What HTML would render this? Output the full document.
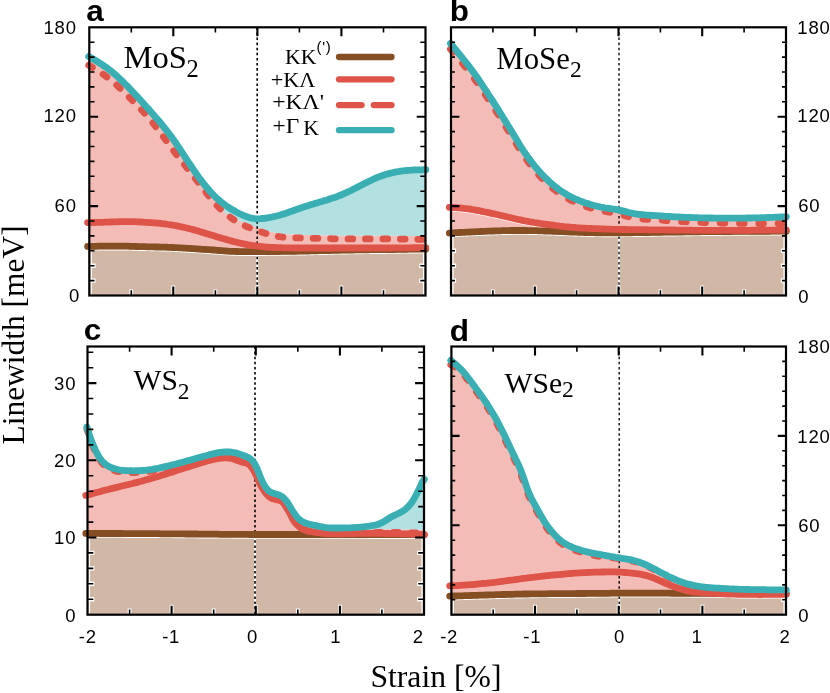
<!DOCTYPE html>
<html><head><meta charset="utf-8"><title>Linewidth vs strain</title>
<style>
html,body{margin:0;padding:0;background:#fff;}
body{width:830px;height:693px;overflow:hidden;font-family:"Liberation Sans",sans-serif;}
svg{display:block;will-change:transform;}
</style></head><body>
<svg width="830" height="693" viewBox="0 0 830 693">
<rect width="830" height="693" fill="#fff"/>
<clipPath id="cpa"><rect x="89.3" y="27.3" width="336.2" height="268.2"/></clipPath>
<g clip-path="url(#cpa)">
<path d="M222.3,202.9 L224.4,204.5 L226.5,206.0 L228.6,207.4 L230.7,208.8 L232.9,210.0 L235.0,211.2 L237.1,212.4 L239.2,213.5 L241.3,214.5 L243.5,215.4 L245.6,216.3 L247.7,217.0 L249.8,217.7 L251.9,218.2 L254.1,218.5 L256.2,218.8 L258.3,218.8 L260.4,218.7 L262.6,218.5 L264.7,218.3 L266.8,217.9 L268.9,217.6 L271.0,217.2 L273.2,216.7 L275.3,216.3 L277.4,215.8 L279.5,215.2 L281.6,214.5 L283.8,213.9 L285.9,213.2 L288.0,212.5 L290.1,211.7 L292.2,211.0 L294.4,210.2 L296.5,209.5 L298.6,208.7 L300.7,208.0 L302.8,207.3 L305.0,206.6 L307.1,205.9 L309.2,205.3 L311.3,204.6 L313.4,204.0 L315.6,203.3 L317.7,202.7 L319.8,202.1 L321.9,201.5 L324.0,200.8 L326.2,200.2 L328.3,199.5 L330.4,198.8 L332.5,198.1 L334.6,197.4 L336.8,196.7 L338.9,195.8 L341.0,195.0 L343.1,194.1 L345.2,193.2 L347.4,192.2 L349.5,191.2 L351.6,190.2 L353.7,189.1 L355.8,188.0 L358.0,186.9 L360.1,185.8 L362.2,184.7 L364.3,183.6 L366.4,182.6 L368.6,181.5 L370.7,180.5 L372.8,179.5 L374.9,178.5 L377.0,177.6 L379.2,176.7 L381.3,176.0 L383.4,175.2 L385.5,174.5 L387.6,173.9 L389.8,173.4 L391.9,172.8 L394.0,172.4 L396.1,171.9 L398.2,171.6 L400.4,171.2 L402.5,171.0 L404.6,170.7 L406.7,170.5 L408.8,170.3 L411.0,170.2 L413.1,170.0 L415.2,169.9 L417.3,169.9 L419.4,169.8 L421.6,169.8 L423.7,169.7 L425.8,169.7 L425.8,236.3 L423.7,236.3 L421.6,236.2 L419.4,236.2 L417.3,236.1 L415.2,236.1 L413.1,236.1 L411.0,236.0 L408.8,236.0 L406.7,236.0 L404.6,235.9 L402.5,235.9 L400.4,235.9 L398.2,235.8 L396.1,235.8 L394.0,235.8 L391.9,235.8 L389.8,235.7 L387.6,235.7 L385.5,235.7 L383.4,235.7 L381.3,235.7 L379.2,235.7 L377.0,235.7 L374.9,235.7 L372.8,235.7 L370.7,235.7 L368.6,235.7 L366.4,235.7 L364.3,235.7 L362.2,235.7 L360.1,235.7 L358.0,235.7 L355.8,235.7 L353.7,235.7 L351.6,235.7 L349.5,235.7 L347.4,235.7 L345.2,235.7 L343.1,235.7 L341.0,235.7 L338.9,235.7 L336.8,235.7 L334.6,235.6 L332.5,235.6 L330.4,235.5 L328.3,235.5 L326.2,235.5 L324.0,235.4 L321.9,235.4 L319.8,235.3 L317.7,235.2 L315.6,235.2 L313.4,235.1 L311.3,235.0 L309.2,235.0 L307.1,234.9 L305.0,234.9 L302.8,234.8 L300.7,234.7 L298.6,234.7 L296.5,234.6 L294.4,234.6 L292.2,234.5 L290.1,234.5 L288.0,234.4 L285.9,234.2 L283.8,234.0 L281.6,233.8 L279.5,233.5 L277.4,233.2 L275.3,232.8 L273.2,232.3 L271.0,231.8 L268.9,231.2 L266.8,230.6 L264.7,229.9 L262.6,229.2 L260.4,228.5 L258.3,227.8 L256.2,227.0 L254.1,226.2 L251.9,225.4 L249.8,224.6 L247.7,223.8 L245.6,223.0 L243.5,222.3 L241.3,221.6 L239.2,220.7 L237.1,219.8 L235.0,218.8 L232.9,217.7 L230.7,216.5 L228.6,215.2 L226.5,213.8 L224.4,212.3 L222.3,210.6Z" fill="#B3E0E1"/>
<path d="M88.7,56.6 L90.8,57.7 L92.9,58.9 L95.1,60.2 L97.2,61.5 L99.3,62.8 L101.4,64.2 L103.5,65.6 L105.7,67.1 L107.8,68.6 L109.9,70.2 L112.0,71.9 L114.1,73.7 L116.3,75.6 L118.4,77.5 L120.5,79.5 L122.6,81.5 L124.7,83.6 L126.9,85.7 L129.0,87.9 L131.1,90.1 L133.2,92.3 L135.3,94.6 L137.5,96.9 L139.6,99.2 L141.7,101.5 L143.8,103.9 L145.9,106.3 L148.1,108.6 L150.2,111.0 L152.3,113.4 L154.4,115.9 L156.5,118.3 L158.7,120.8 L160.8,123.3 L162.9,125.9 L165.0,128.5 L167.1,131.2 L169.3,133.9 L171.4,136.8 L173.5,139.7 L175.6,142.7 L177.7,145.9 L179.9,149.0 L182.0,152.3 L184.1,155.5 L186.2,158.8 L188.3,162.0 L190.5,165.2 L192.6,168.4 L194.7,171.5 L196.8,174.6 L198.9,177.5 L201.1,180.4 L203.2,183.1 L205.3,185.8 L207.4,188.3 L209.5,190.8 L211.7,193.1 L213.8,195.3 L215.9,197.4 L218.0,199.3 L220.1,201.1 L222.3,210.6 L224.4,212.3 L226.5,213.8 L228.6,215.2 L230.7,216.5 L232.9,217.7 L235.0,218.8 L237.1,219.8 L239.2,220.7 L241.3,221.6 L243.5,222.3 L245.6,223.0 L247.7,223.8 L249.8,224.6 L251.9,225.4 L254.1,226.2 L256.2,227.0 L258.3,227.8 L260.4,228.5 L262.6,229.2 L264.7,229.9 L266.8,230.6 L268.9,231.2 L271.0,231.8 L273.2,232.3 L275.3,232.8 L277.4,233.2 L279.5,233.5 L281.6,233.8 L283.8,234.0 L285.9,234.2 L288.0,234.4 L290.1,234.5 L292.2,234.5 L294.4,234.6 L296.5,234.6 L298.6,234.7 L300.7,234.7 L302.8,234.8 L305.0,234.9 L307.1,234.9 L309.2,235.0 L311.3,235.0 L313.4,235.1 L315.6,235.2 L317.7,235.2 L319.8,235.3 L321.9,235.4 L324.0,235.4 L326.2,235.5 L328.3,235.5 L330.4,235.5 L332.5,235.6 L334.6,235.6 L336.8,235.7 L338.9,235.7 L341.0,235.7 L343.1,235.7 L345.2,235.7 L347.4,235.7 L349.5,235.7 L351.6,235.7 L353.7,235.7 L355.8,235.7 L358.0,235.7 L360.1,235.7 L362.2,235.7 L364.3,235.7 L366.4,235.7 L368.6,235.7 L370.7,235.7 L372.8,235.7 L374.9,235.7 L377.0,235.7 L379.2,235.7 L381.3,235.7 L383.4,235.7 L385.5,235.7 L387.6,235.7 L389.8,235.7 L391.9,235.8 L394.0,235.8 L396.1,235.8 L398.2,235.8 L400.4,235.9 L402.5,235.9 L404.6,235.9 L406.7,236.0 L408.8,236.0 L411.0,236.0 L413.1,236.1 L415.2,236.1 L417.3,236.1 L419.4,236.2 L421.6,236.2 L423.7,236.3 L425.8,236.3 L425.8,249.0 L423.7,249.0 L421.6,249.1 L419.4,249.1 L417.3,249.1 L415.2,249.2 L413.1,249.2 L411.0,249.2 L408.8,249.2 L406.7,249.3 L404.6,249.3 L402.5,249.3 L400.4,249.4 L398.2,249.4 L396.1,249.4 L394.0,249.5 L391.9,249.5 L389.8,249.5 L387.6,249.5 L385.5,249.6 L383.4,249.6 L381.3,249.6 L379.2,249.6 L377.0,249.7 L374.9,249.7 L372.8,249.7 L370.7,249.7 L368.6,249.8 L366.4,249.8 L364.3,249.8 L362.2,249.9 L360.1,249.9 L358.0,249.9 L355.8,249.9 L353.7,250.0 L351.6,250.0 L349.5,250.0 L347.4,250.1 L345.2,250.1 L343.1,250.2 L341.0,250.2 L338.9,250.2 L336.8,250.3 L334.6,250.3 L332.5,250.4 L330.4,250.4 L328.3,250.5 L326.2,250.6 L324.0,250.6 L321.9,250.7 L319.8,250.7 L317.7,250.8 L315.6,250.8 L313.4,250.9 L311.3,250.9 L309.2,251.0 L307.1,251.0 L305.0,251.1 L302.8,251.1 L300.7,251.2 L298.6,251.2 L296.5,251.2 L294.4,251.3 L292.2,251.3 L290.1,251.3 L288.0,251.4 L285.9,251.4 L283.8,251.4 L281.6,251.4 L279.5,251.5 L277.4,251.5 L275.3,251.5 L273.2,251.5 L271.0,251.5 L268.9,251.5 L266.8,251.5 L264.7,251.6 L262.6,251.6 L260.4,251.6 L258.3,251.6 L256.2,251.6 L254.1,251.6 L251.9,251.6 L249.8,251.6 L247.7,251.6 L245.6,251.6 L243.5,251.6 L241.3,251.6 L239.2,251.6 L237.1,251.5 L235.0,251.5 L232.9,251.4 L230.7,251.3 L228.6,251.2 L226.5,251.0 L224.4,250.9 L222.3,250.8 L220.1,250.6 L218.0,250.4 L215.9,250.3 L213.8,250.1 L211.7,249.9 L209.5,249.8 L207.4,249.6 L205.3,249.5 L203.2,249.3 L201.1,249.2 L198.9,249.0 L196.8,248.9 L194.7,248.8 L192.6,248.6 L190.5,248.5 L188.3,248.4 L186.2,248.2 L184.1,248.1 L182.0,248.0 L179.9,247.9 L177.7,247.7 L175.6,247.6 L173.5,247.5 L171.4,247.4 L169.3,247.3 L167.1,247.3 L165.0,247.2 L162.9,247.1 L160.8,247.1 L158.7,247.0 L156.5,247.0 L154.4,247.0 L152.3,246.9 L150.2,246.9 L148.1,246.8 L145.9,246.8 L143.8,246.7 L141.7,246.6 L139.6,246.6 L137.5,246.5 L135.3,246.4 L133.2,246.4 L131.1,246.3 L129.0,246.3 L126.9,246.2 L124.7,246.2 L122.6,246.1 L120.5,246.1 L118.4,246.1 L116.3,246.1 L114.1,246.1 L112.0,246.1 L109.9,246.1 L107.8,246.1 L105.7,246.1 L103.5,246.2 L101.4,246.2 L99.3,246.2 L97.2,246.2 L95.1,246.3 L92.9,246.3 L90.8,246.4 L88.7,246.4Z" fill="#F3BCB7"/>
<path d="M88.7,248.4 L90.8,248.4 L92.9,248.3 L95.1,248.3 L97.2,248.2 L99.3,248.2 L101.4,248.2 L103.5,248.2 L105.7,248.1 L107.8,248.1 L109.9,248.1 L112.0,248.1 L114.1,248.1 L116.3,248.1 L118.4,248.1 L120.5,248.1 L122.6,248.1 L124.7,248.2 L126.9,248.2 L129.0,248.3 L131.1,248.3 L133.2,248.4 L135.3,248.4 L137.5,248.5 L139.6,248.6 L141.7,248.6 L143.8,248.7 L145.9,248.8 L148.1,248.8 L150.2,248.9 L152.3,248.9 L154.4,249.0 L156.5,249.0 L158.7,249.0 L160.8,249.1 L162.9,249.1 L165.0,249.2 L167.1,249.3 L169.3,249.3 L171.4,249.4 L173.5,249.5 L175.6,249.6 L177.7,249.7 L179.9,249.9 L182.0,250.0 L184.1,250.1 L186.2,250.2 L188.3,250.4 L190.5,250.5 L192.6,250.6 L194.7,250.8 L196.8,250.9 L198.9,251.0 L201.1,251.2 L203.2,251.3 L205.3,251.5 L207.4,251.6 L209.5,251.8 L211.7,251.9 L213.8,252.1 L215.9,252.3 L218.0,252.4 L220.1,252.6 L222.3,252.8 L224.4,252.9 L226.5,253.0 L228.6,253.2 L230.7,253.3 L232.9,253.4 L235.0,253.5 L237.1,253.5 L239.2,253.6 L241.3,253.6 L243.5,253.6 L245.6,253.6 L247.7,253.6 L249.8,253.6 L251.9,253.6 L254.1,253.6 L256.2,253.6 L258.3,253.6 L260.4,253.6 L262.6,253.6 L264.7,253.6 L266.8,253.5 L268.9,253.5 L271.0,253.5 L273.2,253.5 L275.3,253.5 L277.4,253.5 L279.5,253.5 L281.6,253.4 L283.8,253.4 L285.9,253.4 L288.0,253.4 L290.1,253.3 L292.2,253.3 L294.4,253.3 L296.5,253.2 L298.6,253.2 L300.7,253.2 L302.8,253.1 L305.0,253.1 L307.1,253.0 L309.2,253.0 L311.3,252.9 L313.4,252.9 L315.6,252.8 L317.7,252.8 L319.8,252.7 L321.9,252.7 L324.0,252.6 L326.2,252.6 L328.3,252.5 L330.4,252.4 L332.5,252.4 L334.6,252.3 L336.8,252.3 L338.9,252.2 L341.0,252.2 L343.1,252.2 L345.2,252.1 L347.4,252.1 L349.5,252.0 L351.6,252.0 L353.7,252.0 L355.8,251.9 L358.0,251.9 L360.1,251.9 L362.2,251.9 L364.3,251.8 L366.4,251.8 L368.6,251.8 L370.7,251.7 L372.8,251.7 L374.9,251.7 L377.0,251.7 L379.2,251.6 L381.3,251.6 L383.4,251.6 L385.5,251.6 L387.6,251.5 L389.8,251.5 L391.9,251.5 L394.0,251.5 L396.1,251.4 L398.2,251.4 L400.4,251.4 L402.5,251.3 L404.6,251.3 L406.7,251.3 L408.8,251.2 L411.0,251.2 L413.1,251.2 L415.2,251.2 L417.3,251.1 L419.4,251.1 L421.6,251.1 L423.7,251.0 L425.8,251.0 L428.5,298.5 L86.3,298.5Z" fill="#D1B8A6"/>
<path d="M88.7,250.1 L90.8,250.1 L92.9,250.0 L95.1,250.0 L97.2,249.9 L99.3,249.9 L101.4,249.9 L103.5,249.9 L105.7,249.8 L107.8,249.8 L109.9,249.8 L112.0,249.8 L114.1,249.8 L116.3,249.8 L118.4,249.8 L120.5,249.8 L122.6,249.8 L124.7,249.9 L126.9,249.9 L129.0,250.0 L131.1,250.0 L133.2,250.1 L135.3,250.1 L137.5,250.2 L139.6,250.3 L141.7,250.3 L143.8,250.4 L145.9,250.5 L148.1,250.5 L150.2,250.6 L152.3,250.6 L154.4,250.7 L156.5,250.7 L158.7,250.7 L160.8,250.8 L162.9,250.8 L165.0,250.9 L167.1,251.0 L169.3,251.0 L171.4,251.1 L173.5,251.2 L175.6,251.3 L177.7,251.4 L179.9,251.6 L182.0,251.7 L184.1,251.8 L186.2,251.9 L188.3,252.1 L190.5,252.2 L192.6,252.3 L194.7,252.5 L196.8,252.6 L198.9,252.7 L201.1,252.9 L203.2,253.0 L205.3,253.2 L207.4,253.3 L209.5,253.5 L211.7,253.6 L213.8,253.8 L215.9,254.0 L218.0,254.1 L220.1,254.3 L222.3,254.5 L224.4,254.6 L226.5,254.7 L228.6,254.9 L230.7,255.0 L232.9,255.1 L235.0,255.2 L237.1,255.2 L239.2,255.3 L241.3,255.3 L243.5,255.3 L245.6,255.3 L247.7,255.3 L249.8,255.3 L251.9,255.3 L254.1,255.3 L256.2,255.3 L258.3,255.3 L260.4,255.3 L262.6,255.3 L264.7,255.3 L266.8,255.2 L268.9,255.2 L271.0,255.2 L273.2,255.2 L275.3,255.2 L277.4,255.2 L279.5,255.2 L281.6,255.1 L283.8,255.1 L285.9,255.1 L288.0,255.1 L290.1,255.0 L292.2,255.0 L294.4,255.0 L296.5,254.9 L298.6,254.9 L300.7,254.9 L302.8,254.8 L305.0,254.8 L307.1,254.7 L309.2,254.7 L311.3,254.6 L313.4,254.6 L315.6,254.5 L317.7,254.5 L319.8,254.4 L321.9,254.4 L324.0,254.3 L326.2,254.3 L328.3,254.2 L330.4,254.1 L332.5,254.1 L334.6,254.0 L336.8,254.0 L338.9,253.9 L341.0,253.9 L343.1,253.9 L345.2,253.8 L347.4,253.8 L349.5,253.7 L351.6,253.7 L353.7,253.7 L355.8,253.6 L358.0,253.6 L360.1,253.6 L362.2,253.6 L364.3,253.5 L366.4,253.5 L368.6,253.5 L370.7,253.4 L372.8,253.4 L374.9,253.4 L377.0,253.4 L379.2,253.3 L381.3,253.3 L383.4,253.3 L385.5,253.3 L387.6,253.2 L389.8,253.2 L391.9,253.2 L394.0,253.2 L396.1,253.1 L398.2,253.1 L400.4,253.1 L402.5,253.0 L404.6,253.0 L406.7,253.0 L408.8,252.9 L411.0,252.9 L413.1,252.9 L415.2,252.9 L417.3,252.8 L419.4,252.8 L421.6,252.8 L423.7,252.7 L425.8,252.7" fill="none" stroke="#fff" stroke-width="1.2"/>
<path d="M91.2,250.4 V294.5 M423.6,253.0 V294.5" fill="none" stroke="#fff" stroke-width="1.3"/>
<g stroke="#fff" fill="none"><path d="M131.3,295.5 v-6.1000000000000005" stroke-width="3.8"/>
<path d="M173.3,295.5 v-9.9" stroke-width="3.8"/>
<path d="M215.4,295.5 v-6.1000000000000005" stroke-width="3.8"/>
<path d="M257.4,295.5 v-9.9" stroke-width="3.8"/>
<path d="M299.4,295.5 v-6.1000000000000005" stroke-width="3.8"/>
<path d="M341.4,295.5 v-9.9" stroke-width="3.8"/>
<path d="M383.5,295.5 v-6.1000000000000005" stroke-width="3.8"/>
<path d="M89.3,280.6 h6.300000000000001" stroke-width="4.4"/>
<path d="M425.5,280.6 h-6.300000000000001" stroke-width="4.4"/>
<path d="M89.3,265.7 h6.300000000000001" stroke-width="4.4"/>
<path d="M425.5,265.7 h-6.300000000000001" stroke-width="4.4"/></g>
</g>
<path d="M257.2,255.6 V295.5" stroke="#fff" stroke-width="2.0" fill="none"/>
<path d="M257.2,27.3 V295.5" stroke="#000" stroke-width="1.6" stroke-dasharray="2.55 2.55" fill="none"/>
<g fill="none" stroke-width="6.8" stroke-linecap="round" stroke-linejoin="round">
<path d="M87.6,246.4 L89.7,246.4 L91.9,246.3 L94.0,246.3 L96.1,246.3 L98.2,246.2 L100.4,246.2 L102.5,246.2 L104.6,246.1 L106.7,246.1 L108.9,246.1 L111.0,246.1 L113.1,246.1 L115.3,246.1 L117.4,246.1 L119.5,246.1 L121.6,246.1 L123.8,246.2 L125.9,246.2 L128.0,246.2 L130.1,246.3 L132.3,246.4 L134.4,246.4 L136.5,246.5 L138.6,246.6 L140.8,246.6 L142.9,246.7 L145.0,246.7 L147.2,246.8 L149.3,246.9 L151.4,246.9 L153.5,246.9 L155.7,247.0 L157.8,247.0 L159.9,247.1 L162.0,247.1 L164.2,247.2 L166.3,247.2 L168.4,247.3 L170.6,247.4 L172.7,247.5 L174.8,247.6 L176.9,247.7 L179.1,247.8 L181.2,247.9 L183.3,248.1 L185.4,248.2 L187.6,248.3 L189.7,248.4 L191.8,248.6 L194.0,248.7 L196.1,248.8 L198.2,249.0 L200.3,249.1 L202.5,249.3 L204.6,249.4 L206.7,249.6 L208.8,249.7 L211.0,249.9 L213.1,250.0 L215.2,250.2 L217.3,250.4 L219.5,250.5 L221.6,250.7 L223.7,250.9 L225.9,251.0 L228.0,251.1 L230.1,251.3 L232.2,251.4 L234.4,251.4 L236.5,251.5 L238.6,251.6 L240.7,251.6 L242.9,251.6 L245.0,251.6 L247.1,251.6 L249.3,251.6 L251.4,251.6 L253.5,251.6 L255.6,251.6 L257.8,251.6 L259.9,251.6 L262.0,251.6 L264.1,251.6 L266.3,251.5 L268.4,251.5 L270.5,251.5 L272.7,251.5 L274.8,251.5 L276.9,251.5 L279.0,251.5 L281.2,251.4 L283.3,251.4 L285.4,251.4 L287.5,251.4 L289.7,251.3 L291.8,251.3 L293.9,251.3 L296.1,251.3 L298.2,251.2 L300.3,251.2 L302.4,251.1 L304.6,251.1 L306.7,251.0 L308.8,251.0 L310.9,250.9 L313.1,250.9 L315.2,250.8 L317.3,250.8 L319.4,250.7 L321.6,250.7 L323.7,250.6 L325.8,250.6 L328.0,250.5 L330.1,250.5 L332.2,250.4 L334.3,250.3 L336.5,250.3 L338.6,250.3 L340.7,250.2 L342.8,250.2 L345.0,250.1 L347.1,250.1 L349.2,250.0 L351.4,250.0 L353.5,250.0 L355.6,249.9 L357.7,249.9 L359.9,249.9 L362.0,249.9 L364.1,249.8 L366.2,249.8 L368.4,249.8 L370.5,249.7 L372.6,249.7 L374.8,249.7 L376.9,249.7 L379.0,249.6 L381.1,249.6 L383.3,249.6 L385.4,249.6 L387.5,249.5 L389.6,249.5 L391.8,249.5 L393.9,249.5 L396.0,249.4 L398.1,249.4 L400.3,249.4 L402.4,249.3 L404.5,249.3 L406.7,249.3 L408.8,249.2 L410.9,249.2 L413.0,249.2 L415.2,249.2 L417.3,249.1 L419.4,249.1 L421.5,249.1 L423.7,249.0 L425.8,249.0" stroke="#854E23"/>
<path d="M87.6,222.6 L89.7,222.6 L91.9,222.5 L94.0,222.5 L96.1,222.4 L98.2,222.4 L100.4,222.3 L102.5,222.3 L104.6,222.2 L106.7,222.1 L108.9,222.1 L111.0,222.0 L113.1,221.9 L115.3,221.8 L117.4,221.8 L119.5,221.7 L121.6,221.6 L123.8,221.6 L125.9,221.6 L128.0,221.6 L130.1,221.6 L132.3,221.7 L134.4,221.7 L136.5,221.8 L138.6,221.9 L140.8,222.0 L142.9,222.1 L145.0,222.3 L147.2,222.4 L149.3,222.6 L151.4,222.7 L153.5,222.9 L155.7,223.0 L157.8,223.2 L159.9,223.4 L162.0,223.7 L164.2,223.9 L166.3,224.2 L168.4,224.5 L170.6,224.8 L172.7,225.1 L174.8,225.5 L176.9,225.9 L179.1,226.3 L181.2,226.8 L183.3,227.2 L185.4,227.7 L187.6,228.2 L189.7,228.8 L191.8,229.3 L194.0,229.9 L196.1,230.5 L198.2,231.1 L200.3,231.8 L202.5,232.4 L204.6,233.0 L206.7,233.7 L208.8,234.3 L211.0,235.0 L213.1,235.6 L215.2,236.3 L217.3,236.9 L219.5,237.5 L221.6,238.2 L223.7,238.8 L225.9,239.4 L228.0,240.0 L230.1,240.6 L232.2,241.1 L234.4,241.7 L236.5,242.2 L238.6,242.7 L240.7,243.2 L242.9,243.7 L245.0,244.1 L247.1,244.6 L249.3,244.9 L251.4,245.3 L253.5,245.6 L255.6,245.9 L257.8,246.2 L259.9,246.4 L262.0,246.6 L264.1,246.8 L266.3,247.0 L268.4,247.1 L270.5,247.3 L272.7,247.4 L274.8,247.5 L276.9,247.6 L279.0,247.6 L281.2,247.7 L283.3,247.8 L285.4,247.8 L287.5,247.9 L289.7,247.9 L291.8,247.9 L293.9,248.0 L296.1,248.0 L298.2,248.0 L300.3,248.0 L302.4,248.0 L304.6,248.0 L306.7,248.0 L308.8,248.0 L310.9,248.0 L313.1,248.0 L315.2,248.0 L317.3,248.0 L319.4,248.0 L321.6,248.0 L323.7,248.0 L325.8,248.0 L328.0,248.0 L330.1,248.0 L332.2,248.0 L334.3,248.0 L336.5,248.0 L338.6,248.0 L340.7,248.0 L342.8,248.0 L345.0,248.0 L347.1,248.0 L349.2,248.0 L351.4,248.0 L353.5,248.0 L355.6,248.0 L357.7,248.0 L359.9,248.0 L362.0,248.0 L364.1,248.0 L366.2,248.0 L368.4,248.0 L370.5,248.0 L372.6,248.0 L374.8,248.0 L376.9,248.0 L379.0,248.0 L381.1,248.0 L383.3,248.0 L385.4,248.0 L387.5,248.0 L389.6,248.0 L391.8,248.0 L393.9,247.9 L396.0,247.9 L398.1,247.9 L400.3,247.9 L402.4,247.9 L404.5,247.8 L406.7,247.8 L408.8,247.8 L410.9,247.8 L413.0,247.7 L415.2,247.7 L417.3,247.7 L419.4,247.7 L421.5,247.6 L423.7,247.6 L425.8,247.6" stroke="#DE5449"/>
<path d="M88.7,65.3 L90.8,66.4 L92.9,67.7 L95.1,69.0 L97.2,70.3 L99.3,71.7 L101.4,73.1 L103.5,74.6 L105.7,76.1 L107.8,77.7 L109.9,79.3 L112.0,81.1 L114.1,82.9 L116.3,84.7 L118.4,86.7 L120.5,88.7 L122.6,90.7 L124.7,92.8 L126.9,94.9 L129.0,97.0 L131.1,99.1 L133.2,101.2 L135.3,103.4 L137.5,105.6 L139.6,107.8 L141.7,110.0 L143.8,112.3 L145.9,114.7 L148.1,117.1 L150.2,119.6 L152.3,122.2 L154.4,124.9 L156.5,127.6 L158.7,130.4 L160.8,133.3 L162.9,136.2 L165.0,139.1 L167.1,142.1 L169.3,145.0 L171.4,147.8 L173.5,150.7 L175.6,153.4 L177.7,156.2 L179.9,158.9 L182.0,161.5 L184.1,164.2 L186.2,166.8 L188.3,169.5 L190.5,172.2 L192.6,174.9 L194.7,177.6 L196.8,180.4 L198.9,183.2 L201.1,186.0 L203.2,188.8 L205.3,191.5 L207.4,194.2 L209.5,196.9 L211.7,199.5 L213.8,201.9 L215.9,204.3 L218.0,206.5 L220.1,208.7 L222.3,210.7 L224.4,212.6 L226.5,214.4 L228.6,216.0 L230.7,217.6 L232.9,219.1 L235.0,220.5 L237.1,221.8 L239.2,222.9 L241.3,224.1 L243.5,225.1 L245.6,226.1 L247.7,227.0 L249.8,227.8 L251.9,228.6 L254.1,229.4 L256.2,230.2 L258.3,231.0 L260.4,231.7 L262.6,232.4 L264.7,233.1 L266.8,233.8 L268.9,234.4 L271.0,235.0 L273.2,235.5 L275.3,236.0 L277.4,236.4 L279.5,236.7 L281.6,237.0 L283.8,237.2 L285.9,237.4 L288.0,237.6 L290.1,237.7 L292.2,237.7 L294.4,237.8 L296.5,237.8 L298.6,237.9 L300.7,237.9 L302.8,238.0 L305.0,238.1 L307.1,238.1 L309.2,238.2 L311.3,238.2 L313.4,238.3 L315.6,238.4 L317.7,238.4 L319.8,238.5 L321.9,238.6 L324.0,238.6 L326.2,238.7 L328.3,238.7 L330.4,238.7 L332.5,238.8 L334.6,238.8 L336.8,238.9 L338.9,238.9 L341.0,238.9 L343.1,238.9 L345.2,238.9 L347.4,238.9 L349.5,238.9 L351.6,238.9 L353.7,238.9 L355.8,238.9 L358.0,238.9 L360.1,238.9 L362.2,238.9 L364.3,238.9 L366.4,238.9 L368.6,238.9 L370.7,238.9 L372.8,238.9 L374.9,238.9 L377.0,238.9 L379.2,238.9 L381.3,238.9 L383.4,238.9 L385.5,238.9 L387.6,238.9 L389.8,238.9 L391.9,239.0 L394.0,239.0 L396.1,239.0 L398.2,239.0 L400.4,239.1 L402.5,239.1 L404.6,239.1 L406.7,239.2 L408.8,239.2 L411.0,239.2 L413.1,239.3 L415.2,239.3 L417.3,239.3 L419.4,239.4 L421.6,239.4 L423.7,239.5 L425.8,239.5" stroke="#DE5449" stroke-dasharray="4.7 12.750" stroke-dashoffset="0.5"/>
<path d="M88.7,56.6 L90.8,57.7 L92.9,58.9 L95.1,60.2 L97.2,61.5 L99.3,62.8 L101.4,64.2 L103.5,65.6 L105.7,67.1 L107.8,68.6 L109.9,70.2 L112.0,71.9 L114.1,73.7 L116.3,75.6 L118.4,77.5 L120.5,79.5 L122.6,81.5 L124.7,83.6 L126.9,85.7 L129.0,87.9 L131.1,90.1 L133.2,92.3 L135.3,94.6 L137.5,96.9 L139.6,99.2 L141.7,101.5 L143.8,103.9 L145.9,106.3 L148.1,108.6 L150.2,111.0 L152.3,113.4 L154.4,115.9 L156.5,118.3 L158.7,120.8 L160.8,123.3 L162.9,125.9 L165.0,128.5 L167.1,131.2 L169.3,133.9 L171.4,136.8 L173.5,139.7 L175.6,142.7 L177.7,145.9 L179.9,149.0 L182.0,152.3 L184.1,155.5 L186.2,158.8 L188.3,162.0 L190.5,165.2 L192.6,168.4 L194.7,171.5 L196.8,174.6 L198.9,177.5 L201.1,180.4 L203.2,183.1 L205.3,185.8 L207.4,188.3 L209.5,190.8 L211.7,193.1 L213.8,195.3 L215.9,197.4 L218.0,199.3 L220.1,201.1 L222.3,202.9 L224.4,204.5 L226.5,206.0 L228.6,207.4 L230.7,208.8 L232.9,210.0 L235.0,211.2 L237.1,212.4 L239.2,213.5 L241.3,214.5 L243.5,215.4 L245.6,216.3 L247.7,217.0 L249.8,217.7 L251.9,218.2 L254.1,218.5 L256.2,218.8 L258.3,218.8 L260.4,218.7 L262.6,218.5 L264.7,218.3 L266.8,217.9 L268.9,217.6 L271.0,217.2 L273.2,216.7 L275.3,216.3 L277.4,215.8 L279.5,215.2 L281.6,214.5 L283.8,213.9 L285.9,213.2 L288.0,212.5 L290.1,211.7 L292.2,211.0 L294.4,210.2 L296.5,209.5 L298.6,208.7 L300.7,208.0 L302.8,207.3 L305.0,206.6 L307.1,205.9 L309.2,205.3 L311.3,204.6 L313.4,204.0 L315.6,203.3 L317.7,202.7 L319.8,202.1 L321.9,201.5 L324.0,200.8 L326.2,200.2 L328.3,199.5 L330.4,198.8 L332.5,198.1 L334.6,197.4 L336.8,196.7 L338.9,195.8 L341.0,195.0 L343.1,194.1 L345.2,193.2 L347.4,192.2 L349.5,191.2 L351.6,190.2 L353.7,189.1 L355.8,188.0 L358.0,186.9 L360.1,185.8 L362.2,184.7 L364.3,183.6 L366.4,182.6 L368.6,181.5 L370.7,180.5 L372.8,179.5 L374.9,178.5 L377.0,177.6 L379.2,176.7 L381.3,176.0 L383.4,175.2 L385.5,174.5 L387.6,173.9 L389.8,173.4 L391.9,172.8 L394.0,172.4 L396.1,171.9 L398.2,171.6 L400.4,171.2 L402.5,171.0 L404.6,170.7 L406.7,170.5 L408.8,170.3 L411.0,170.2 L413.1,170.0 L415.2,169.9 L417.3,169.9 L419.4,169.8 L421.6,169.8 L423.7,169.7 L425.8,169.7" stroke="#3AAFB3"/>
</g>
<g stroke="#000" stroke-width="2.0" fill="none"><path d="M131.3,295.5 v-5.2 M131.3,27.3 v5.2" stroke-width="1.6"/>
<path d="M173.3,295.5 v-9.0 M173.3,27.3 v9.0" stroke-width="2.1"/>
<path d="M215.4,295.5 v-5.2 M215.4,27.3 v5.2" stroke-width="1.6"/>
<path d="M257.4,295.5 v-9.0 M257.4,27.3 v9.0" stroke-width="2.1"/>
<path d="M299.4,295.5 v-5.2 M299.4,27.3 v5.2" stroke-width="1.6"/>
<path d="M341.4,295.5 v-9.0 M341.4,27.3 v9.0" stroke-width="2.1"/>
<path d="M383.5,295.5 v-5.2 M383.5,27.3 v5.2" stroke-width="1.6"/>
<path d="M89.3,280.6 h5.2 M425.5,280.6 h-5.2" stroke-width="1.6"/>
<path d="M89.3,265.7 h5.2 M425.5,265.7 h-5.2" stroke-width="1.6"/>
<path d="M89.3,250.8 h5.2 M425.5,250.8 h-5.2" stroke-width="1.6"/>
<path d="M89.3,235.9 h5.2 M425.5,235.9 h-5.2" stroke-width="1.6"/>
<path d="M89.3,221.0 h5.2 M425.5,221.0 h-5.2" stroke-width="1.6"/>
<path d="M89.3,206.1 h8.8 M425.5,206.1 h-8.8" stroke-width="2.1"/>
<path d="M89.3,191.2 h5.2 M425.5,191.2 h-5.2" stroke-width="1.6"/>
<path d="M89.3,176.3 h5.2 M425.5,176.3 h-5.2" stroke-width="1.6"/>
<path d="M89.3,161.4 h5.2 M425.5,161.4 h-5.2" stroke-width="1.6"/>
<path d="M89.3,146.5 h5.2 M425.5,146.5 h-5.2" stroke-width="1.6"/>
<path d="M89.3,131.6 h5.2 M425.5,131.6 h-5.2" stroke-width="1.6"/>
<path d="M89.3,116.7 h8.8 M425.5,116.7 h-8.8" stroke-width="2.1"/>
<path d="M89.3,101.8 h5.2 M425.5,101.8 h-5.2" stroke-width="1.6"/>
<path d="M89.3,86.9 h5.2 M425.5,86.9 h-5.2" stroke-width="1.6"/>
<path d="M89.3,72.0 h5.2 M425.5,72.0 h-5.2" stroke-width="1.6"/>
<path d="M89.3,57.1 h5.2 M425.5,57.1 h-5.2" stroke-width="1.6"/>
<path d="M89.3,42.2 h5.2 M425.5,42.2 h-5.2" stroke-width="1.6"/></g>
<rect x="89.3" y="27.3" width="336.2" height="268.2" fill="none" stroke="#000" stroke-width="2.2"/>
<clipPath id="cpb"><rect x="451.0" y="27.3" width="335.0" height="268.2"/></clipPath>
<g clip-path="url(#cpb)">
<path d="M450.4,43.3 L452.5,45.9 L454.6,48.4 L456.7,51.0 L458.9,53.6 L461.0,56.2 L463.1,58.8 L465.2,61.5 L467.3,64.1 L469.4,66.9 L471.5,69.7 L473.6,72.5 L475.8,75.5 L477.9,78.5 L480.0,81.6 L482.1,84.8 L484.2,88.0 L486.3,91.2 L488.4,94.5 L490.5,97.7 L492.7,101.0 L494.8,104.3 L496.9,107.6 L499.0,111.0 L501.1,114.3 L503.2,117.7 L505.3,121.1 L507.4,124.6 L509.6,128.0 L511.7,131.5 L513.8,135.0 L515.9,138.5 L518.0,142.0 L520.1,145.5 L522.2,148.8 L524.3,152.0 L526.5,155.1 L528.6,158.1 L530.7,160.9 L532.8,163.7 L534.9,166.3 L537.0,168.8 L539.1,171.2 L541.2,173.5 L543.4,175.8 L545.5,177.9 L547.6,180.0 L549.7,182.0 L551.8,183.8 L553.9,185.6 L556.0,187.3 L558.1,188.9 L560.3,190.5 L562.4,191.9 L564.5,193.2 L566.6,194.5 L568.7,195.7 L570.8,196.8 L572.9,197.8 L575.0,198.8 L577.2,199.7 L579.3,200.6 L581.4,201.4 L583.5,202.2 L585.6,202.9 L587.7,203.6 L589.8,204.3 L591.9,204.9 L594.1,205.5 L596.2,206.0 L598.3,206.5 L600.4,207.0 L602.5,207.4 L604.6,207.8 L606.7,208.1 L608.8,208.4 L611.0,208.7 L613.1,209.0 L615.2,209.3 L617.3,209.7 L619.4,210.1 L621.5,210.6 L623.6,211.1 L625.7,211.6 L627.9,212.2 L630.0,212.7 L632.1,213.2 L634.2,213.6 L636.3,213.9 L638.4,214.3 L640.5,214.5 L642.6,214.7 L644.8,214.9 L646.9,215.1 L649.0,215.2 L651.1,215.4 L653.2,215.5 L655.3,215.6 L657.4,215.7 L659.5,215.9 L661.7,216.0 L663.8,216.1 L665.9,216.3 L668.0,216.4 L670.1,216.5 L672.2,216.6 L674.3,216.8 L676.4,216.9 L678.6,217.0 L680.7,217.1 L682.8,217.2 L684.9,217.3 L687.0,217.4 L689.1,217.4 L691.2,217.5 L693.3,217.6 L695.5,217.7 L697.6,217.7 L699.7,217.8 L701.8,217.8 L703.9,217.9 L706.0,217.9 L708.1,218.0 L710.2,218.0 L712.4,218.0 L714.5,218.1 L716.6,218.1 L718.7,218.1 L720.8,218.1 L722.9,218.1 L725.0,218.1 L727.1,218.1 L729.3,218.1 L731.4,218.1 L733.5,218.1 L735.6,218.1 L737.7,218.1 L739.8,218.1 L741.9,218.1 L744.0,218.1 L746.2,218.0 L748.3,218.0 L750.4,218.0 L752.5,217.9 L754.6,217.9 L756.7,217.8 L758.8,217.8 L760.9,217.7 L763.1,217.7 L765.2,217.6 L767.3,217.5 L769.4,217.5 L771.5,217.4 L773.6,217.3 L775.7,217.2 L777.8,217.1 L780.0,217.0 L782.1,217.0 L784.2,216.9 L786.3,216.8 L786.3,231.2 L784.2,231.2 L782.1,231.2 L780.0,231.2 L777.8,231.2 L775.7,231.2 L773.6,231.2 L771.5,231.2 L769.4,231.3 L767.3,231.3 L765.2,231.3 L763.1,231.3 L760.9,231.3 L758.8,231.3 L756.7,231.3 L754.6,231.3 L752.5,231.3 L750.4,231.3 L748.3,231.4 L746.2,231.4 L744.0,231.4 L741.9,231.4 L739.8,231.4 L737.7,231.4 L735.6,231.4 L733.5,231.4 L731.4,231.5 L729.3,231.5 L727.1,231.5 L725.0,231.5 L722.9,231.5 L720.8,231.6 L718.7,231.6 L716.6,231.6 L714.5,231.6 L712.4,231.6 L710.2,231.7 L708.1,231.7 L706.0,231.7 L703.9,231.7 L701.8,231.7 L699.7,231.8 L697.6,231.8 L695.5,231.8 L693.3,231.8 L691.2,231.9 L689.1,231.9 L687.0,231.9 L684.9,231.9 L682.8,232.0 L680.7,232.0 L678.6,232.0 L676.4,232.1 L674.3,232.1 L672.2,232.1 L670.1,232.1 L668.0,232.2 L665.9,232.2 L663.8,232.2 L661.7,232.3 L659.5,232.3 L657.4,232.3 L655.3,232.4 L653.2,232.4 L651.1,232.4 L649.0,232.5 L646.9,232.5 L644.8,232.5 L642.6,232.6 L640.5,232.6 L638.4,232.7 L636.3,232.7 L634.2,232.7 L632.1,232.8 L630.0,232.8 L627.9,232.8 L625.7,232.8 L623.6,232.9 L621.5,232.9 L619.4,232.9 L617.3,232.9 L615.2,232.9 L613.1,232.9 L611.0,232.9 L608.8,232.9 L606.7,232.9 L604.6,232.9 L602.5,232.9 L600.4,232.8 L598.3,232.8 L596.2,232.8 L594.1,232.7 L591.9,232.7 L589.8,232.7 L587.7,232.6 L585.6,232.5 L583.5,232.5 L581.4,232.4 L579.3,232.3 L577.2,232.2 L575.0,232.2 L572.9,232.1 L570.8,232.0 L568.7,231.9 L566.6,231.8 L564.5,231.7 L562.4,231.7 L560.3,231.6 L558.1,231.5 L556.0,231.4 L553.9,231.3 L551.8,231.2 L549.7,231.1 L547.6,231.1 L545.5,231.0 L543.4,230.9 L541.2,230.9 L539.1,230.8 L537.0,230.7 L534.9,230.7 L532.8,230.6 L530.7,230.6 L528.6,230.6 L526.5,230.5 L524.3,230.5 L522.2,230.5 L520.1,230.5 L518.0,230.5 L515.9,230.5 L513.8,230.5 L511.7,230.5 L509.6,230.6 L507.4,230.6 L505.3,230.6 L503.2,230.7 L501.1,230.8 L499.0,230.8 L496.9,230.9 L494.8,231.0 L492.7,231.0 L490.5,231.1 L488.4,231.2 L486.3,231.3 L484.2,231.4 L482.1,231.5 L480.0,231.6 L477.9,231.6 L475.8,231.7 L473.6,231.8 L471.5,231.9 L469.4,232.0 L467.3,232.1 L465.2,232.3 L463.1,232.4 L461.0,232.5 L458.9,232.6 L456.7,232.7 L454.6,232.8 L452.5,232.9 L450.4,233.0Z" fill="#F3BCB7"/>
<path d="M450.4,235.0 L452.5,234.9 L454.6,234.8 L456.7,234.7 L458.9,234.6 L461.0,234.5 L463.1,234.4 L465.2,234.3 L467.3,234.1 L469.4,234.0 L471.5,233.9 L473.6,233.8 L475.8,233.7 L477.9,233.6 L480.0,233.6 L482.1,233.5 L484.2,233.4 L486.3,233.3 L488.4,233.2 L490.5,233.1 L492.7,233.0 L494.8,233.0 L496.9,232.9 L499.0,232.8 L501.1,232.8 L503.2,232.7 L505.3,232.6 L507.4,232.6 L509.6,232.6 L511.7,232.5 L513.8,232.5 L515.9,232.5 L518.0,232.5 L520.1,232.5 L522.2,232.5 L524.3,232.5 L526.5,232.5 L528.6,232.6 L530.7,232.6 L532.8,232.6 L534.9,232.7 L537.0,232.7 L539.1,232.8 L541.2,232.9 L543.4,232.9 L545.5,233.0 L547.6,233.1 L549.7,233.1 L551.8,233.2 L553.9,233.3 L556.0,233.4 L558.1,233.5 L560.3,233.6 L562.4,233.7 L564.5,233.7 L566.6,233.8 L568.7,233.9 L570.8,234.0 L572.9,234.1 L575.0,234.2 L577.2,234.2 L579.3,234.3 L581.4,234.4 L583.5,234.5 L585.6,234.5 L587.7,234.6 L589.8,234.7 L591.9,234.7 L594.1,234.7 L596.2,234.8 L598.3,234.8 L600.4,234.8 L602.5,234.9 L604.6,234.9 L606.7,234.9 L608.8,234.9 L611.0,234.9 L613.1,234.9 L615.2,234.9 L617.3,234.9 L619.4,234.9 L621.5,234.9 L623.6,234.9 L625.7,234.8 L627.9,234.8 L630.0,234.8 L632.1,234.8 L634.2,234.7 L636.3,234.7 L638.4,234.7 L640.5,234.6 L642.6,234.6 L644.8,234.5 L646.9,234.5 L649.0,234.5 L651.1,234.4 L653.2,234.4 L655.3,234.4 L657.4,234.3 L659.5,234.3 L661.7,234.3 L663.8,234.2 L665.9,234.2 L668.0,234.2 L670.1,234.1 L672.2,234.1 L674.3,234.1 L676.4,234.1 L678.6,234.0 L680.7,234.0 L682.8,234.0 L684.9,233.9 L687.0,233.9 L689.1,233.9 L691.2,233.9 L693.3,233.8 L695.5,233.8 L697.6,233.8 L699.7,233.8 L701.8,233.7 L703.9,233.7 L706.0,233.7 L708.1,233.7 L710.2,233.7 L712.4,233.6 L714.5,233.6 L716.6,233.6 L718.7,233.6 L720.8,233.6 L722.9,233.5 L725.0,233.5 L727.1,233.5 L729.3,233.5 L731.4,233.5 L733.5,233.4 L735.6,233.4 L737.7,233.4 L739.8,233.4 L741.9,233.4 L744.0,233.4 L746.2,233.4 L748.3,233.4 L750.4,233.3 L752.5,233.3 L754.6,233.3 L756.7,233.3 L758.8,233.3 L760.9,233.3 L763.1,233.3 L765.2,233.3 L767.3,233.3 L769.4,233.3 L771.5,233.2 L773.6,233.2 L775.7,233.2 L777.8,233.2 L780.0,233.2 L782.1,233.2 L784.2,233.2 L786.3,233.2 L789.0,298.5 L448.0,298.5Z" fill="#D1B8A6"/>
<path d="M450.4,236.7 L452.5,236.6 L454.6,236.5 L456.7,236.4 L458.9,236.3 L461.0,236.2 L463.1,236.1 L465.2,236.0 L467.3,235.8 L469.4,235.7 L471.5,235.6 L473.6,235.5 L475.8,235.4 L477.9,235.3 L480.0,235.3 L482.1,235.2 L484.2,235.1 L486.3,235.0 L488.4,234.9 L490.5,234.8 L492.7,234.7 L494.8,234.7 L496.9,234.6 L499.0,234.5 L501.1,234.5 L503.2,234.4 L505.3,234.3 L507.4,234.3 L509.6,234.3 L511.7,234.2 L513.8,234.2 L515.9,234.2 L518.0,234.2 L520.1,234.2 L522.2,234.2 L524.3,234.2 L526.5,234.2 L528.6,234.3 L530.7,234.3 L532.8,234.3 L534.9,234.4 L537.0,234.4 L539.1,234.5 L541.2,234.6 L543.4,234.6 L545.5,234.7 L547.6,234.8 L549.7,234.8 L551.8,234.9 L553.9,235.0 L556.0,235.1 L558.1,235.2 L560.3,235.3 L562.4,235.4 L564.5,235.4 L566.6,235.5 L568.7,235.6 L570.8,235.7 L572.9,235.8 L575.0,235.9 L577.2,235.9 L579.3,236.0 L581.4,236.1 L583.5,236.2 L585.6,236.2 L587.7,236.3 L589.8,236.4 L591.9,236.4 L594.1,236.4 L596.2,236.5 L598.3,236.5 L600.4,236.5 L602.5,236.6 L604.6,236.6 L606.7,236.6 L608.8,236.6 L611.0,236.6 L613.1,236.6 L615.2,236.6 L617.3,236.6 L619.4,236.6 L621.5,236.6 L623.6,236.6 L625.7,236.5 L627.9,236.5 L630.0,236.5 L632.1,236.5 L634.2,236.4 L636.3,236.4 L638.4,236.4 L640.5,236.3 L642.6,236.3 L644.8,236.2 L646.9,236.2 L649.0,236.2 L651.1,236.1 L653.2,236.1 L655.3,236.1 L657.4,236.0 L659.5,236.0 L661.7,236.0 L663.8,235.9 L665.9,235.9 L668.0,235.9 L670.1,235.8 L672.2,235.8 L674.3,235.8 L676.4,235.8 L678.6,235.7 L680.7,235.7 L682.8,235.7 L684.9,235.6 L687.0,235.6 L689.1,235.6 L691.2,235.6 L693.3,235.5 L695.5,235.5 L697.6,235.5 L699.7,235.5 L701.8,235.4 L703.9,235.4 L706.0,235.4 L708.1,235.4 L710.2,235.4 L712.4,235.3 L714.5,235.3 L716.6,235.3 L718.7,235.3 L720.8,235.3 L722.9,235.2 L725.0,235.2 L727.1,235.2 L729.3,235.2 L731.4,235.2 L733.5,235.1 L735.6,235.1 L737.7,235.1 L739.8,235.1 L741.9,235.1 L744.0,235.1 L746.2,235.1 L748.3,235.1 L750.4,235.0 L752.5,235.0 L754.6,235.0 L756.7,235.0 L758.8,235.0 L760.9,235.0 L763.1,235.0 L765.2,235.0 L767.3,235.0 L769.4,235.0 L771.5,234.9 L773.6,234.9 L775.7,234.9 L777.8,234.9 L780.0,234.9 L782.1,234.9 L784.2,234.9 L786.3,234.9" fill="none" stroke="#fff" stroke-width="1.2"/>
<path d="M449.3,211.1 L451.4,211.2 L453.5,211.3 L455.7,211.4 L457.8,211.6 L459.9,211.7 L462.0,211.9 L464.1,212.2 L466.3,212.4 L468.4,212.7 L470.5,213.0 L472.6,213.4 L474.7,213.7 L476.9,214.1 L479.0,214.5 L481.1,214.9 L483.2,215.4 L485.3,215.8 L487.5,216.2 L489.6,216.7 L491.7,217.2 L493.8,217.6 L495.9,218.1 L498.0,218.6 L500.2,219.1 L502.3,219.5 L504.4,220.0 L506.5,220.5 L508.6,221.0 L510.8,221.5 L512.9,222.0 L515.0,222.5 L517.1,223.0 L519.2,223.5 L521.4,223.9 L523.5,224.4 L525.6,224.8 L527.7,225.2 L529.8,225.6 L532.0,225.9 L534.1,226.3 L536.2,226.6 L538.3,227.0 L540.4,227.3 L542.6,227.6 L544.7,227.9 L546.8,228.2" fill="none" stroke="#fff" stroke-width="0.9"/>
<path d="M452.9,237.0 V294.5 M784.1,235.2 V294.5" fill="none" stroke="#fff" stroke-width="1.3"/>
<g stroke="#fff" fill="none"><path d="M492.9,295.5 v-6.1000000000000005" stroke-width="3.8"/>
<path d="M534.8,295.5 v-9.9" stroke-width="3.8"/>
<path d="M576.6,295.5 v-6.1000000000000005" stroke-width="3.8"/>
<path d="M618.5,295.5 v-9.9" stroke-width="3.8"/>
<path d="M660.4,295.5 v-6.1000000000000005" stroke-width="3.8"/>
<path d="M702.2,295.5 v-9.9" stroke-width="3.8"/>
<path d="M744.1,295.5 v-6.1000000000000005" stroke-width="3.8"/>
<path d="M451.0,280.6 h5.1" stroke-width="4.4"/>
<path d="M786.0,280.6 h-5.1" stroke-width="4.4"/>
<path d="M451.0,265.7 h5.1" stroke-width="4.4"/>
<path d="M786.0,265.7 h-5.1" stroke-width="4.4"/>
<path d="M451.0,250.8 h5.1" stroke-width="4.4"/>
<path d="M786.0,250.8 h-5.1" stroke-width="4.4"/></g>
</g>
<path d="M619.0,236.9 V295.5" stroke="#fff" stroke-width="2.0" fill="none"/>
<path d="M619.0,27.3 V295.5" stroke="#000" stroke-width="1.35" stroke-dasharray="2.55 2.55" fill="none"/>
<g fill="none" stroke-width="6.8" stroke-linecap="round" stroke-linejoin="round">
<path d="M449.3,233.1 L451.4,233.0 L453.5,232.8 L455.7,232.7 L457.8,232.6 L459.9,232.5 L462.0,232.4 L464.1,232.3 L466.3,232.2 L468.4,232.1 L470.5,232.0 L472.6,231.9 L474.7,231.8 L476.9,231.7 L479.0,231.6 L481.1,231.5 L483.2,231.4 L485.3,231.3 L487.5,231.2 L489.6,231.1 L491.7,231.1 L493.8,231.0 L495.9,230.9 L498.0,230.8 L500.2,230.8 L502.3,230.7 L504.4,230.7 L506.5,230.6 L508.6,230.6 L510.8,230.5 L512.9,230.5 L515.0,230.5 L517.1,230.5 L519.2,230.5 L521.4,230.5 L523.5,230.5 L525.6,230.5 L527.7,230.6 L529.8,230.6 L532.0,230.6 L534.1,230.7 L536.2,230.7 L538.3,230.8 L540.4,230.8 L542.6,230.9 L544.7,231.0 L546.8,231.0 L548.9,231.1 L551.0,231.2 L553.2,231.3 L555.3,231.4 L557.4,231.4 L559.5,231.5 L561.6,231.6 L563.8,231.7 L565.9,231.8 L568.0,231.9 L570.1,232.0 L572.2,232.1 L574.4,232.1 L576.5,232.2 L578.6,232.3 L580.7,232.4 L582.8,232.4 L584.9,232.5 L587.1,232.6 L589.2,232.6 L591.3,232.7 L593.4,232.7 L595.5,232.8 L597.7,232.8 L599.8,232.8 L601.9,232.9 L604.0,232.9 L606.1,232.9 L608.3,232.9 L610.4,232.9 L612.5,232.9 L614.6,232.9 L616.7,232.9 L618.9,232.9 L621.0,232.9 L623.1,232.9 L625.2,232.8 L627.3,232.8 L629.5,232.8 L631.6,232.8 L633.7,232.7 L635.8,232.7 L637.9,232.7 L640.1,232.6 L642.2,232.6 L644.3,232.6 L646.4,232.5 L648.5,232.5 L650.7,232.4 L652.8,232.4 L654.9,232.4 L657.0,232.3 L659.1,232.3 L661.2,232.3 L663.4,232.2 L665.5,232.2 L667.6,232.2 L669.7,232.1 L671.8,232.1 L674.0,232.1 L676.1,232.1 L678.2,232.0 L680.3,232.0 L682.4,232.0 L684.6,231.9 L686.7,231.9 L688.8,231.9 L690.9,231.9 L693.0,231.8 L695.2,231.8 L697.3,231.8 L699.4,231.8 L701.5,231.7 L703.6,231.7 L705.8,231.7 L707.9,231.7 L710.0,231.7 L712.1,231.6 L714.2,231.6 L716.4,231.6 L718.5,231.6 L720.6,231.6 L722.7,231.5 L724.8,231.5 L727.0,231.5 L729.1,231.5 L731.2,231.5 L733.3,231.4 L735.4,231.4 L737.6,231.4 L739.7,231.4 L741.8,231.4 L743.9,231.4 L746.0,231.4 L748.1,231.4 L750.3,231.3 L752.4,231.3 L754.5,231.3 L756.6,231.3 L758.7,231.3 L760.9,231.3 L763.0,231.3 L765.1,231.3 L767.2,231.3 L769.3,231.3 L771.5,231.2 L773.6,231.2 L775.7,231.2 L777.8,231.2 L779.9,231.2 L782.1,231.2 L784.2,231.2 L786.3,231.2" stroke="#854E23"/>
<path d="M449.3,207.3 L451.4,207.4 L453.5,207.5 L455.7,207.6 L457.8,207.8 L459.9,207.9 L462.0,208.1 L464.1,208.4 L466.3,208.6 L468.4,208.9 L470.5,209.2 L472.6,209.6 L474.7,209.9 L476.9,210.3 L479.0,210.7 L481.1,211.1 L483.2,211.6 L485.3,212.0 L487.5,212.4 L489.6,212.9 L491.7,213.4 L493.8,213.8 L495.9,214.3 L498.0,214.8 L500.2,215.3 L502.3,215.7 L504.4,216.2 L506.5,216.7 L508.6,217.2 L510.8,217.7 L512.9,218.2 L515.0,218.7 L517.1,219.2 L519.2,219.7 L521.4,220.1 L523.5,220.6 L525.6,221.0 L527.7,221.4 L529.8,221.8 L532.0,222.1 L534.1,222.5 L536.2,222.8 L538.3,223.2 L540.4,223.5 L542.6,223.8 L544.7,224.1 L546.8,224.4 L548.9,224.7 L551.0,225.0 L553.2,225.2 L555.3,225.5 L557.4,225.8 L559.5,226.1 L561.6,226.3 L563.8,226.6 L565.9,226.8 L568.0,227.0 L570.1,227.2 L572.2,227.4 L574.4,227.5 L576.5,227.7 L578.6,227.8 L580.7,228.0 L582.8,228.1 L584.9,228.2 L587.1,228.3 L589.2,228.4 L591.3,228.5 L593.4,228.6 L595.5,228.7 L597.7,228.7 L599.8,228.8 L601.9,228.9 L604.0,229.0 L606.1,229.1 L608.3,229.1 L610.4,229.2 L612.5,229.3 L614.6,229.3 L616.7,229.4 L618.9,229.4 L621.0,229.5 L623.1,229.5 L625.2,229.5 L627.3,229.6 L629.5,229.6 L631.6,229.6 L633.7,229.6 L635.8,229.7 L637.9,229.7 L640.1,229.7 L642.2,229.7 L644.3,229.7 L646.4,229.7 L648.5,229.8 L650.7,229.8 L652.8,229.8 L654.9,229.8 L657.0,229.8 L659.1,229.9 L661.2,229.9 L663.4,229.9 L665.5,229.9 L667.6,230.0 L669.7,230.0 L671.8,230.0 L674.0,230.0 L676.1,230.1 L678.2,230.1 L680.3,230.1 L682.4,230.2 L684.6,230.2 L686.7,230.2 L688.8,230.2 L690.9,230.2 L693.0,230.3 L695.2,230.3 L697.3,230.3 L699.4,230.3 L701.5,230.3 L703.6,230.3 L705.8,230.3 L707.9,230.4 L710.0,230.4 L712.1,230.4 L714.2,230.4 L716.4,230.4 L718.5,230.4 L720.6,230.4 L722.7,230.4 L724.8,230.4 L727.0,230.3 L729.1,230.3 L731.2,230.3 L733.3,230.3 L735.4,230.3 L737.6,230.3 L739.7,230.3 L741.8,230.3 L743.9,230.3 L746.0,230.3 L748.1,230.3 L750.3,230.3 L752.4,230.2 L754.5,230.2 L756.6,230.2 L758.7,230.2 L760.9,230.2 L763.0,230.2 L765.1,230.2 L767.2,230.2 L769.3,230.2 L771.5,230.2 L773.6,230.2 L775.7,230.1 L777.8,230.1 L779.9,230.1 L782.1,230.1 L784.2,230.1 L786.3,230.1" stroke="#DE5449"/>
<path d="M450.4,49.0 L452.5,51.5 L454.6,54.0 L456.7,56.5 L458.9,59.1 L461.0,61.6 L463.1,64.2 L465.2,66.8 L467.3,69.4 L469.4,72.1 L471.5,74.9 L473.6,77.7 L475.8,80.7 L477.9,83.6 L480.0,86.7 L482.1,89.8 L484.2,93.0 L486.3,96.2 L488.4,99.5 L490.5,102.7 L492.7,106.0 L494.8,109.3 L496.9,112.6 L499.0,116.0 L501.1,119.3 L503.2,122.6 L505.3,126.0 L507.4,129.4 L509.6,132.8 L511.7,136.2 L513.8,139.7 L515.9,143.2 L518.0,146.7 L520.1,150.1 L522.2,153.4 L524.3,156.6 L526.5,159.6 L528.6,162.5 L530.7,165.3 L532.8,168.0 L534.9,170.5 L537.0,172.9 L539.1,175.3 L541.2,177.5 L543.4,179.7 L545.5,181.7 L547.6,183.7 L549.7,185.7 L551.8,187.5 L553.9,189.2 L556.0,190.9 L558.1,192.5 L560.3,194.0 L562.4,195.4 L564.5,196.7 L566.6,198.0 L568.7,199.1 L570.8,200.3 L572.9,201.3 L575.0,202.3 L577.2,203.2 L579.3,204.1 L581.4,204.9 L583.5,205.7 L585.6,206.4 L587.7,207.1 L589.8,207.8 L591.9,208.4 L594.1,209.0 L596.2,209.6 L598.3,210.1 L600.4,210.5 L602.5,211.0 L604.6,211.4 L606.7,211.7 L608.8,212.1 L611.0,212.4 L613.1,212.8 L615.2,213.2 L617.3,213.6 L619.4,214.1 L621.5,214.7 L623.6,215.3 L625.7,215.9 L627.9,216.5 L630.0,217.1 L632.1,217.6 L634.2,218.0 L636.3,218.4 L638.4,218.6 L640.5,218.8 L642.6,219.0 L644.8,219.2 L646.9,219.3 L649.0,219.4 L651.1,219.5 L653.2,219.6 L655.3,219.7 L657.4,219.8 L659.5,220.0 L661.7,220.2 L663.8,220.3 L665.9,220.5 L668.0,220.7 L670.1,220.8 L672.2,221.0 L674.3,221.1 L676.4,221.3 L678.6,221.4 L680.7,221.5 L682.8,221.6 L684.9,221.7 L687.0,221.8 L689.1,221.9 L691.2,222.0 L693.3,222.1 L695.5,222.2 L697.6,222.2 L699.7,222.3 L701.8,222.4 L703.9,222.5 L706.0,222.5 L708.1,222.6 L710.2,222.7 L712.4,222.7 L714.5,222.8 L716.6,222.9 L718.7,222.9 L720.8,223.0 L722.9,223.0 L725.0,223.1 L727.1,223.1 L729.3,223.1 L731.4,223.2 L733.5,223.2 L735.6,223.2 L737.7,223.3 L739.8,223.3 L741.9,223.3 L744.0,223.3 L746.2,223.4 L748.3,223.4 L750.4,223.4 L752.5,223.4 L754.6,223.5 L756.7,223.5 L758.8,223.5 L760.9,223.5 L763.1,223.5 L765.2,223.5 L767.3,223.5 L769.4,223.5 L771.5,223.5 L773.6,223.5 L775.7,223.5 L777.8,223.5 L780.0,223.5 L782.1,223.5 L784.2,223.5 L786.3,223.5" stroke="#DE5449" stroke-dasharray="4.7 14.625" stroke-dashoffset="0.5"/>
<path d="M450.4,43.3 L452.5,45.9 L454.6,48.4 L456.7,51.0 L458.9,53.6 L461.0,56.2 L463.1,58.8 L465.2,61.5 L467.3,64.1 L469.4,66.9 L471.5,69.7 L473.6,72.5 L475.8,75.5 L477.9,78.5 L480.0,81.6 L482.1,84.8 L484.2,88.0 L486.3,91.2 L488.4,94.5 L490.5,97.7 L492.7,101.0 L494.8,104.3 L496.9,107.6 L499.0,111.0 L501.1,114.3 L503.2,117.7 L505.3,121.1 L507.4,124.6 L509.6,128.0 L511.7,131.5 L513.8,135.0 L515.9,138.5 L518.0,142.0 L520.1,145.5 L522.2,148.8 L524.3,152.0 L526.5,155.1 L528.6,158.1 L530.7,160.9 L532.8,163.7 L534.9,166.3 L537.0,168.8 L539.1,171.2 L541.2,173.5 L543.4,175.8 L545.5,177.9 L547.6,180.0 L549.7,182.0 L551.8,183.8 L553.9,185.6 L556.0,187.3 L558.1,188.9 L560.3,190.5 L562.4,191.9 L564.5,193.2 L566.6,194.5 L568.7,195.7 L570.8,196.8 L572.9,197.8 L575.0,198.8 L577.2,199.7 L579.3,200.6 L581.4,201.4 L583.5,202.2 L585.6,202.9 L587.7,203.6 L589.8,204.3 L591.9,204.9 L594.1,205.5 L596.2,206.0 L598.3,206.5 L600.4,207.0 L602.5,207.4 L604.6,207.8 L606.7,208.1 L608.8,208.4 L611.0,208.7 L613.1,209.0 L615.2,209.3 L617.3,209.7 L619.4,210.1 L621.5,210.6 L623.6,211.1 L625.7,211.6 L627.9,212.2 L630.0,212.7 L632.1,213.2 L634.2,213.6 L636.3,213.9 L638.4,214.3 L640.5,214.5 L642.6,214.7 L644.8,214.9 L646.9,215.1 L649.0,215.2 L651.1,215.4 L653.2,215.5 L655.3,215.6 L657.4,215.7 L659.5,215.9 L661.7,216.0 L663.8,216.1 L665.9,216.3 L668.0,216.4 L670.1,216.5 L672.2,216.6 L674.3,216.8 L676.4,216.9 L678.6,217.0 L680.7,217.1 L682.8,217.2 L684.9,217.3 L687.0,217.4 L689.1,217.4 L691.2,217.5 L693.3,217.6 L695.5,217.7 L697.6,217.7 L699.7,217.8 L701.8,217.8 L703.9,217.9 L706.0,217.9 L708.1,218.0 L710.2,218.0 L712.4,218.0 L714.5,218.1 L716.6,218.1 L718.7,218.1 L720.8,218.1 L722.9,218.1 L725.0,218.1 L727.1,218.1 L729.3,218.1 L731.4,218.1 L733.5,218.1 L735.6,218.1 L737.7,218.1 L739.8,218.1 L741.9,218.1 L744.0,218.1 L746.2,218.0 L748.3,218.0 L750.4,218.0 L752.5,217.9 L754.6,217.9 L756.7,217.8 L758.8,217.8 L760.9,217.7 L763.1,217.7 L765.2,217.6 L767.3,217.5 L769.4,217.5 L771.5,217.4 L773.6,217.3 L775.7,217.2 L777.8,217.1 L780.0,217.0 L782.1,217.0 L784.2,216.9 L786.3,216.8" stroke="#3AAFB3"/>
</g>
<g stroke="#000" stroke-width="2.0" fill="none"><path d="M492.9,295.5 v-5.2 M492.9,27.3 v5.2" stroke-width="1.6"/>
<path d="M534.8,295.5 v-9.0 M534.8,27.3 v9.0" stroke-width="2.1"/>
<path d="M576.6,295.5 v-5.2 M576.6,27.3 v5.2" stroke-width="1.6"/>
<path d="M618.5,295.5 v-9.0 M618.5,27.3 v9.0" stroke-width="2.1"/>
<path d="M660.4,295.5 v-5.2 M660.4,27.3 v5.2" stroke-width="1.6"/>
<path d="M702.2,295.5 v-9.0 M702.2,27.3 v9.0" stroke-width="2.1"/>
<path d="M744.1,295.5 v-5.2 M744.1,27.3 v5.2" stroke-width="1.6"/>
<path d="M451.0,280.6 h4.0 M786.0,280.6 h-4.0" stroke-width="1.6"/>
<path d="M451.0,265.7 h4.0 M786.0,265.7 h-4.0" stroke-width="1.6"/>
<path d="M451.0,250.8 h4.0 M786.0,250.8 h-4.0" stroke-width="1.6"/>
<path d="M451.0,235.9 h4.0 M786.0,235.9 h-4.0" stroke-width="1.6"/>
<path d="M451.0,221.0 h4.0 M786.0,221.0 h-4.0" stroke-width="1.6"/>
<path d="M451.0,206.1 h8.4 M786.0,206.1 h-8.4" stroke-width="2.1"/>
<path d="M451.0,191.2 h4.0 M786.0,191.2 h-4.0" stroke-width="1.6"/>
<path d="M451.0,176.3 h4.0 M786.0,176.3 h-4.0" stroke-width="1.6"/>
<path d="M451.0,161.4 h4.0 M786.0,161.4 h-4.0" stroke-width="1.6"/>
<path d="M451.0,146.5 h4.0 M786.0,146.5 h-4.0" stroke-width="1.6"/>
<path d="M451.0,131.6 h4.0 M786.0,131.6 h-4.0" stroke-width="1.6"/>
<path d="M451.0,116.7 h8.4 M786.0,116.7 h-8.4" stroke-width="2.1"/>
<path d="M451.0,101.8 h4.0 M786.0,101.8 h-4.0" stroke-width="1.6"/>
<path d="M451.0,86.9 h4.0 M786.0,86.9 h-4.0" stroke-width="1.6"/>
<path d="M451.0,72.0 h4.0 M786.0,72.0 h-4.0" stroke-width="1.6"/>
<path d="M451.0,57.1 h4.0 M786.0,57.1 h-4.0" stroke-width="1.6"/>
<path d="M451.0,42.2 h4.0 M786.0,42.2 h-4.0" stroke-width="1.6"/></g>
<rect x="451.0" y="27.3" width="335.0" height="268.2" fill="none" stroke="#000" stroke-width="2.2"/>
<clipPath id="cpc"><rect x="87.5" y="346.5" width="336.5" height="268.20000000000005"/></clipPath>
<g clip-path="url(#cpc)">
<path d="M345.8,527.9 L347.9,527.8 L350.0,527.8 L352.2,527.7 L354.3,527.6 L356.4,527.4 L358.5,527.3 L360.6,527.1 L362.8,526.9 L364.9,526.7 L367.0,526.4 L369.1,526.2 L371.2,525.8 L373.4,525.4 L375.5,525.0 L377.6,524.4 L379.7,523.7 L381.9,522.7 L384.0,521.6 L386.1,520.2 L388.2,518.8 L390.3,517.5 L392.5,516.3 L394.6,515.2 L396.7,514.2 L398.8,513.2 L401.0,512.2 L403.1,510.9 L405.2,509.5 L407.3,507.6 L409.4,505.4 L411.6,502.6 L413.7,499.4 L415.8,495.6 L417.9,491.4 L420.1,486.9 L422.2,482.2 L424.3,479.2 L424.3,530.1 L422.2,530.0 L420.1,529.9 L417.9,529.8 L415.8,529.8 L413.7,529.7 L411.6,529.6 L409.4,529.6 L407.3,529.5 L405.2,529.5 L403.1,529.4 L401.0,529.4 L398.8,529.3 L396.7,529.3 L394.6,529.3 L392.5,529.3 L390.3,529.2 L388.2,529.2 L386.1,529.2 L384.0,529.2 L381.9,529.2 L379.7,529.2 L377.6,529.2 L375.5,529.2 L373.4,529.2 L371.2,529.2 L369.1,529.3 L367.0,529.6 L364.9,529.9 L362.8,530.2 L360.6,530.5 L358.5,530.9 L356.4,531.2 L354.3,531.5 L352.2,531.9 L350.0,532.2 L347.9,532.6 L345.8,533.0Z" fill="#B3E0E1"/>
<path d="M86.9,427.1 L89.0,433.8 L91.1,440.0 L93.3,445.4 L95.4,450.2 L97.5,454.3 L99.6,457.9 L101.8,460.8 L103.9,463.0 L106.0,464.7 L108.1,466.1 L110.2,467.1 L112.4,468.0 L114.5,468.8 L116.6,469.3 L118.7,469.8 L120.9,470.1 L123.0,470.3 L125.1,470.5 L127.2,470.6 L129.3,470.7 L131.5,470.7 L133.6,470.8 L135.7,470.7 L137.8,470.7 L140.0,470.6 L142.1,470.5 L144.2,470.4 L146.3,470.2 L148.4,469.9 L150.6,469.6 L152.7,469.3 L154.8,468.9 L156.9,468.5 L159.0,468.1 L161.2,467.6 L163.3,467.1 L165.4,466.6 L167.5,466.1 L169.7,465.6 L171.8,465.0 L173.9,464.5 L176.0,464.0 L178.1,463.4 L180.3,462.8 L182.4,462.3 L184.5,461.7 L186.6,461.1 L188.8,460.5 L190.9,459.9 L193.0,459.3 L195.1,458.7 L197.2,458.1 L199.4,457.5 L201.5,456.9 L203.6,456.3 L205.7,455.8 L207.9,455.2 L210.0,454.6 L212.1,454.1 L214.2,453.6 L216.3,453.1 L218.5,452.7 L220.6,452.4 L222.7,452.1 L224.8,452.0 L227.0,451.9 L229.1,452.0 L231.2,452.2 L233.3,452.5 L235.4,452.9 L237.6,453.5 L239.7,454.1 L241.8,454.9 L243.9,455.7 L246.1,456.5 L248.2,457.5 L250.3,458.8 L252.4,460.7 L254.5,463.6 L256.7,467.8 L258.8,473.0 L260.9,478.3 L263.0,482.9 L265.1,486.7 L267.3,489.5 L269.4,491.4 L271.5,492.6 L273.6,493.4 L275.8,494.0 L277.9,494.6 L280.0,495.4 L282.1,496.6 L284.2,498.5 L286.4,501.0 L288.5,504.1 L290.6,507.5 L292.7,511.0 L294.9,514.4 L297.0,517.2 L299.1,519.3 L301.2,520.9 L303.3,522.1 L305.5,523.0 L307.6,523.7 L309.7,524.3 L311.8,524.7 L314.0,525.2 L316.1,525.6 L318.2,526.1 L320.3,526.5 L322.4,526.9 L324.6,527.3 L326.7,527.6 L328.8,527.8 L330.9,527.9 L333.1,528.0 L335.2,528.0 L337.3,528.0 L339.4,528.0 L341.5,528.0 L343.7,527.9 L345.8,533.0 L347.9,532.6 L350.0,532.2 L352.2,531.9 L354.3,531.5 L356.4,531.2 L358.5,530.9 L360.6,530.5 L362.8,530.2 L364.9,529.9 L367.0,529.6 L369.1,529.3 L371.2,529.2 L373.4,529.2 L375.5,529.2 L377.6,529.2 L379.7,529.2 L381.9,529.2 L384.0,529.2 L386.1,529.2 L388.2,529.2 L390.3,529.2 L392.5,529.3 L394.6,529.3 L396.7,529.3 L398.8,529.3 L401.0,529.4 L403.1,529.4 L405.2,529.5 L407.3,529.5 L409.4,529.6 L411.6,529.6 L413.7,529.7 L415.8,529.8 L417.9,529.8 L420.1,529.9 L422.2,530.0 L424.3,530.1 L424.3,534.8 L422.2,534.8 L420.1,534.8 L417.9,534.8 L415.8,534.8 L413.7,534.7 L411.6,534.7 L409.4,534.7 L407.3,534.7 L405.2,534.7 L403.1,534.7 L401.0,534.7 L398.8,534.7 L396.7,534.7 L394.6,534.6 L392.5,534.6 L390.3,534.6 L388.2,534.6 L386.1,534.6 L384.0,534.6 L381.9,534.6 L379.7,534.6 L377.6,534.6 L375.5,534.6 L373.4,534.6 L371.2,534.6 L369.1,534.6 L367.0,534.5 L364.9,534.5 L362.8,534.5 L360.6,534.5 L358.5,534.5 L356.4,534.5 L354.3,534.5 L352.2,534.5 L350.0,534.5 L347.9,534.5 L345.8,534.5 L343.7,534.5 L341.5,534.5 L339.4,534.5 L337.3,534.5 L335.2,534.5 L333.1,534.5 L330.9,534.5 L328.8,534.5 L326.7,534.5 L324.6,534.5 L322.4,534.5 L320.3,534.5 L318.2,534.5 L316.1,534.5 L314.0,534.5 L311.8,534.5 L309.7,534.5 L307.6,534.5 L305.5,534.5 L303.3,534.5 L301.2,534.5 L299.1,534.5 L297.0,534.5 L294.9,534.5 L292.7,534.5 L290.6,534.5 L288.5,534.5 L286.4,534.5 L284.2,534.5 L282.1,534.5 L280.0,534.5 L277.9,534.5 L275.8,534.5 L273.6,534.5 L271.5,534.5 L269.4,534.5 L267.3,534.5 L265.1,534.5 L263.0,534.5 L260.9,534.5 L258.8,534.5 L256.7,534.5 L254.5,534.5 L252.4,534.5 L250.3,534.5 L248.2,534.4 L246.1,534.4 L243.9,534.4 L241.8,534.4 L239.7,534.4 L237.6,534.4 L235.4,534.4 L233.3,534.4 L231.2,534.3 L229.1,534.3 L227.0,534.3 L224.8,534.3 L222.7,534.3 L220.6,534.3 L218.5,534.2 L216.3,534.2 L214.2,534.2 L212.1,534.2 L210.0,534.2 L207.9,534.1 L205.7,534.1 L203.6,534.1 L201.5,534.1 L199.4,534.1 L197.2,534.1 L195.1,534.0 L193.0,534.0 L190.9,534.0 L188.8,534.0 L186.6,534.0 L184.5,533.9 L182.4,533.9 L180.3,533.9 L178.1,533.9 L176.0,533.9 L173.9,533.9 L171.8,533.8 L169.7,533.8 L167.5,533.8 L165.4,533.8 L163.3,533.8 L161.2,533.8 L159.0,533.7 L156.9,533.7 L154.8,533.7 L152.7,533.7 L150.6,533.7 L148.4,533.7 L146.3,533.7 L144.2,533.7 L142.1,533.6 L140.0,533.6 L137.8,533.6 L135.7,533.6 L133.6,533.6 L131.5,533.6 L129.3,533.6 L127.2,533.6 L125.1,533.6 L123.0,533.5 L120.9,533.5 L118.7,533.5 L116.6,533.5 L114.5,533.5 L112.4,533.5 L110.2,533.5 L108.1,533.5 L106.0,533.5 L103.9,533.5 L101.8,533.5 L99.6,533.4 L97.5,533.4 L95.4,533.4 L93.3,533.4 L91.1,533.4 L89.0,533.4 L86.9,533.4Z" fill="#F3BCB7"/>
<path d="M86.9,535.4 L89.0,535.4 L91.1,535.4 L93.3,535.4 L95.4,535.4 L97.5,535.4 L99.6,535.4 L101.8,535.5 L103.9,535.5 L106.0,535.5 L108.1,535.5 L110.2,535.5 L112.4,535.5 L114.5,535.5 L116.6,535.5 L118.7,535.5 L120.9,535.5 L123.0,535.5 L125.1,535.6 L127.2,535.6 L129.3,535.6 L131.5,535.6 L133.6,535.6 L135.7,535.6 L137.8,535.6 L140.0,535.6 L142.1,535.6 L144.2,535.7 L146.3,535.7 L148.4,535.7 L150.6,535.7 L152.7,535.7 L154.8,535.7 L156.9,535.7 L159.0,535.7 L161.2,535.8 L163.3,535.8 L165.4,535.8 L167.5,535.8 L169.7,535.8 L171.8,535.8 L173.9,535.9 L176.0,535.9 L178.1,535.9 L180.3,535.9 L182.4,535.9 L184.5,535.9 L186.6,536.0 L188.8,536.0 L190.9,536.0 L193.0,536.0 L195.1,536.0 L197.2,536.1 L199.4,536.1 L201.5,536.1 L203.6,536.1 L205.7,536.1 L207.9,536.1 L210.0,536.2 L212.1,536.2 L214.2,536.2 L216.3,536.2 L218.5,536.2 L220.6,536.3 L222.7,536.3 L224.8,536.3 L227.0,536.3 L229.1,536.3 L231.2,536.3 L233.3,536.4 L235.4,536.4 L237.6,536.4 L239.7,536.4 L241.8,536.4 L243.9,536.4 L246.1,536.4 L248.2,536.4 L250.3,536.5 L252.4,536.5 L254.5,536.5 L256.7,536.5 L258.8,536.5 L260.9,536.5 L263.0,536.5 L265.1,536.5 L267.3,536.5 L269.4,536.5 L271.5,536.5 L273.6,536.5 L275.8,536.5 L277.9,536.5 L280.0,536.5 L282.1,536.5 L284.2,536.5 L286.4,536.5 L288.5,536.5 L290.6,536.5 L292.7,536.5 L294.9,536.5 L297.0,536.5 L299.1,536.5 L301.2,536.5 L303.3,536.5 L305.5,536.5 L307.6,536.5 L309.7,536.5 L311.8,536.5 L314.0,536.5 L316.1,536.5 L318.2,536.5 L320.3,536.5 L322.4,536.5 L324.6,536.5 L326.7,536.5 L328.8,536.5 L330.9,536.5 L333.1,536.5 L335.2,536.5 L337.3,536.5 L339.4,536.5 L341.5,536.5 L343.7,536.5 L345.8,536.5 L347.9,536.5 L350.0,536.5 L352.2,536.5 L354.3,536.5 L356.4,536.5 L358.5,536.5 L360.6,536.5 L362.8,536.5 L364.9,536.5 L367.0,536.5 L369.1,536.6 L371.2,536.6 L373.4,536.6 L375.5,536.6 L377.6,536.6 L379.7,536.6 L381.9,536.6 L384.0,536.6 L386.1,536.6 L388.2,536.6 L390.3,536.6 L392.5,536.6 L394.6,536.6 L396.7,536.7 L398.8,536.7 L401.0,536.7 L403.1,536.7 L405.2,536.7 L407.3,536.7 L409.4,536.7 L411.6,536.7 L413.7,536.7 L415.8,536.8 L417.9,536.8 L420.1,536.8 L422.2,536.8 L424.3,536.8 L427.0,617.7 L84.5,617.7Z" fill="#D1B8A6"/>
<path d="M86.9,537.1 L89.0,537.1 L91.1,537.1 L93.3,537.1 L95.4,537.1 L97.5,537.1 L99.6,537.1 L101.8,537.2 L103.9,537.2 L106.0,537.2 L108.1,537.2 L110.2,537.2 L112.4,537.2 L114.5,537.2 L116.6,537.2 L118.7,537.2 L120.9,537.2 L123.0,537.2 L125.1,537.3 L127.2,537.3 L129.3,537.3 L131.5,537.3 L133.6,537.3 L135.7,537.3 L137.8,537.3 L140.0,537.3 L142.1,537.3 L144.2,537.4 L146.3,537.4 L148.4,537.4 L150.6,537.4 L152.7,537.4 L154.8,537.4 L156.9,537.4 L159.0,537.4 L161.2,537.5 L163.3,537.5 L165.4,537.5 L167.5,537.5 L169.7,537.5 L171.8,537.5 L173.9,537.6 L176.0,537.6 L178.1,537.6 L180.3,537.6 L182.4,537.6 L184.5,537.6 L186.6,537.7 L188.8,537.7 L190.9,537.7 L193.0,537.7 L195.1,537.7 L197.2,537.8 L199.4,537.8 L201.5,537.8 L203.6,537.8 L205.7,537.8 L207.9,537.8 L210.0,537.9 L212.1,537.9 L214.2,537.9 L216.3,537.9 L218.5,537.9 L220.6,538.0 L222.7,538.0 L224.8,538.0 L227.0,538.0 L229.1,538.0 L231.2,538.0 L233.3,538.1 L235.4,538.1 L237.6,538.1 L239.7,538.1 L241.8,538.1 L243.9,538.1 L246.1,538.1 L248.2,538.1 L250.3,538.2 L252.4,538.2 L254.5,538.2 L256.7,538.2 L258.8,538.2 L260.9,538.2 L263.0,538.2 L265.1,538.2 L267.3,538.2 L269.4,538.2 L271.5,538.2 L273.6,538.2 L275.8,538.2 L277.9,538.2 L280.0,538.2 L282.1,538.2 L284.2,538.2 L286.4,538.2 L288.5,538.2 L290.6,538.2 L292.7,538.2 L294.9,538.2 L297.0,538.2 L299.1,538.2 L301.2,538.2 L303.3,538.2 L305.5,538.2 L307.6,538.2 L309.7,538.2 L311.8,538.2 L314.0,538.2 L316.1,538.2 L318.2,538.2 L320.3,538.2 L322.4,538.2 L324.6,538.2 L326.7,538.2 L328.8,538.2 L330.9,538.2 L333.1,538.2 L335.2,538.2 L337.3,538.2 L339.4,538.2 L341.5,538.2 L343.7,538.2 L345.8,538.2 L347.9,538.2 L350.0,538.2 L352.2,538.2 L354.3,538.2 L356.4,538.2 L358.5,538.2 L360.6,538.2 L362.8,538.2 L364.9,538.2 L367.0,538.2 L369.1,538.3 L371.2,538.3 L373.4,538.3 L375.5,538.3 L377.6,538.3 L379.7,538.3 L381.9,538.3 L384.0,538.3 L386.1,538.3 L388.2,538.3 L390.3,538.3 L392.5,538.3 L394.6,538.3 L396.7,538.4 L398.8,538.4 L401.0,538.4 L403.1,538.4 L405.2,538.4 L407.3,538.4 L409.4,538.4 L411.6,538.4 L413.7,538.4 L415.8,538.5 L417.9,538.5 L420.1,538.5 L422.2,538.5 L424.3,538.5" fill="none" stroke="#fff" stroke-width="1.2"/>
<path d="M89.4,537.4 V613.7 M422.1,538.8 V613.7" fill="none" stroke="#fff" stroke-width="1.3"/>
<g stroke="#fff" fill="none"><path d="M129.6,614.7 v-6.1000000000000005" stroke-width="3.8"/>
<path d="M171.6,614.7 v-9.9" stroke-width="3.8"/>
<path d="M213.7,614.7 v-6.1000000000000005" stroke-width="3.8"/>
<path d="M255.8,614.7 v-9.9" stroke-width="3.8"/>
<path d="M297.8,614.7 v-6.1000000000000005" stroke-width="3.8"/>
<path d="M339.9,614.7 v-9.9" stroke-width="3.8"/>
<path d="M381.9,614.7 v-6.1000000000000005" stroke-width="3.8"/>
<path d="M87.5,599.3 h6.9" stroke-width="4.4"/>
<path d="M424.0,599.3 h-6.9" stroke-width="4.4"/>
<path d="M87.5,583.8 h6.9" stroke-width="4.4"/>
<path d="M424.0,583.8 h-6.9" stroke-width="4.4"/>
<path d="M87.5,568.4 h6.9" stroke-width="4.4"/>
<path d="M424.0,568.4 h-6.9" stroke-width="4.4"/>
<path d="M87.5,552.9 h6.9" stroke-width="4.4"/>
<path d="M424.0,552.9 h-6.9" stroke-width="4.4"/></g>
</g>
<path d="M255.0,538.5 V614.7" stroke="#fff" stroke-width="2.0" fill="none"/>
<path d="M255.0,346.5 V614.7" stroke="#000" stroke-width="1.6" stroke-dasharray="2.55 2.55" fill="none"/>
<g fill="none" stroke-width="6.8" stroke-linecap="round" stroke-linejoin="round">
<path d="M85.8,533.4 L87.9,533.4 L90.1,533.4 L92.2,533.4 L94.3,533.4 L96.4,533.4 L98.6,533.4 L100.7,533.5 L102.8,533.5 L105.0,533.5 L107.1,533.5 L109.2,533.5 L111.3,533.5 L113.5,533.5 L115.6,533.5 L117.7,533.5 L119.9,533.5 L122.0,533.5 L124.1,533.6 L126.2,533.6 L128.4,533.6 L130.5,533.6 L132.6,533.6 L134.8,533.6 L136.9,533.6 L139.0,533.6 L141.2,533.6 L143.3,533.6 L145.4,533.7 L147.5,533.7 L149.7,533.7 L151.8,533.7 L153.9,533.7 L156.1,533.7 L158.2,533.7 L160.3,533.8 L162.4,533.8 L164.6,533.8 L166.7,533.8 L168.8,533.8 L171.0,533.8 L173.1,533.8 L175.2,533.9 L177.3,533.9 L179.5,533.9 L181.6,533.9 L183.7,533.9 L185.9,534.0 L188.0,534.0 L190.1,534.0 L192.2,534.0 L194.4,534.0 L196.5,534.0 L198.6,534.1 L200.8,534.1 L202.9,534.1 L205.0,534.1 L207.1,534.1 L209.3,534.2 L211.4,534.2 L213.5,534.2 L215.7,534.2 L217.8,534.2 L219.9,534.3 L222.1,534.3 L224.2,534.3 L226.3,534.3 L228.4,534.3 L230.6,534.3 L232.7,534.4 L234.8,534.4 L237.0,534.4 L239.1,534.4 L241.2,534.4 L243.3,534.4 L245.5,534.4 L247.6,534.4 L249.7,534.5 L251.9,534.5 L254.0,534.5 L256.1,534.5 L258.2,534.5 L260.4,534.5 L262.5,534.5 L264.6,534.5 L266.8,534.5 L268.9,534.5 L271.0,534.5 L273.1,534.5 L275.3,534.5 L277.4,534.5 L279.5,534.5 L281.7,534.5 L283.8,534.5 L285.9,534.5 L288.0,534.5 L290.2,534.5 L292.3,534.5 L294.4,534.5 L296.6,534.5 L298.7,534.5 L300.8,534.5 L303.0,534.5 L305.1,534.5 L307.2,534.5 L309.3,534.5 L311.5,534.5 L313.6,534.5 L315.7,534.5 L317.9,534.5 L320.0,534.5 L322.1,534.5 L324.2,534.5 L326.4,534.5 L328.5,534.5 L330.6,534.5 L332.8,534.5 L334.9,534.5 L337.0,534.5 L339.1,534.5 L341.3,534.5 L343.4,534.5 L345.5,534.5 L347.7,534.5 L349.8,534.5 L351.9,534.5 L354.0,534.5 L356.2,534.5 L358.3,534.5 L360.4,534.5 L362.6,534.5 L364.7,534.5 L366.8,534.5 L368.9,534.6 L371.1,534.6 L373.2,534.6 L375.3,534.6 L377.5,534.6 L379.6,534.6 L381.7,534.6 L383.9,534.6 L386.0,534.6 L388.1,534.6 L390.2,534.6 L392.4,534.6 L394.5,534.6 L396.6,534.7 L398.8,534.7 L400.9,534.7 L403.0,534.7 L405.1,534.7 L407.3,534.7 L409.4,534.7 L411.5,534.7 L413.7,534.7 L415.8,534.8 L417.9,534.8 L420.0,534.8 L422.2,534.8 L424.3,534.8" stroke="#854E23"/>
<path d="M85.8,495.4 L87.9,495.0 L90.1,494.4 L92.2,493.8 L94.3,493.1 L96.4,492.5 L98.6,492.0 L100.7,491.4 L102.8,490.8 L105.0,490.2 L107.1,489.7 L109.2,489.2 L111.3,488.6 L113.5,488.1 L115.6,487.6 L117.7,487.1 L119.9,486.5 L122.0,486.0 L124.1,485.5 L126.2,485.0 L128.4,484.5 L130.5,484.0 L132.6,483.5 L134.8,482.9 L136.9,482.4 L139.0,481.8 L141.2,481.3 L143.3,480.7 L145.4,480.1 L147.5,479.5 L149.7,478.9 L151.8,478.3 L153.9,477.6 L156.1,477.0 L158.2,476.4 L160.3,475.7 L162.4,475.0 L164.6,474.4 L166.7,473.7 L168.8,473.0 L171.0,472.4 L173.1,471.7 L175.2,471.0 L177.3,470.3 L179.5,469.6 L181.6,469.0 L183.7,468.3 L185.9,467.6 L188.0,466.9 L190.1,466.3 L192.2,465.6 L194.4,464.9 L196.5,464.2 L198.6,463.6 L200.8,462.9 L202.9,462.3 L205.0,461.7 L207.1,461.1 L209.3,460.5 L211.4,460.0 L213.5,459.4 L215.7,459.0 L217.8,458.6 L219.9,458.2 L222.1,458.0 L224.2,457.9 L226.3,457.9 L228.4,458.0 L230.6,458.3 L232.7,458.8 L234.8,459.5 L237.0,460.3 L239.1,461.1 L241.2,461.8 L243.3,462.5 L245.5,463.0 L247.6,463.6 L249.7,464.9 L251.9,467.3 L254.0,470.9 L256.1,475.2 L258.2,479.8 L260.4,484.3 L262.5,488.3 L264.6,491.7 L266.8,494.3 L268.9,496.3 L271.0,497.8 L273.1,498.8 L275.3,499.4 L277.4,499.8 L279.5,500.4 L281.7,501.4 L283.8,503.4 L285.9,506.4 L288.0,510.2 L290.2,514.2 L292.3,518.1 L294.4,521.5 L296.6,524.3 L298.7,526.4 L300.8,528.0 L303.0,529.2 L305.1,530.0 L307.2,530.7 L309.3,531.3 L311.5,531.7 L313.6,532.1 L315.7,532.4 L317.9,532.7 L320.0,532.9 L322.1,533.1 L324.2,533.3 L326.4,533.4 L328.5,533.6 L330.6,533.7 L332.8,533.7 L334.9,533.8 L337.0,533.8 L339.1,533.8 L341.3,533.8 L343.4,533.8 L345.5,533.7 L347.7,533.7 L349.8,533.6 L351.9,533.6 L354.0,533.5 L356.2,533.4 L358.3,533.4 L360.4,533.4 L362.6,533.3 L364.7,533.3 L366.8,533.3 L368.9,533.3 L371.1,533.3 L373.2,533.3 L375.3,533.3 L377.5,533.4 L379.6,533.4 L381.7,533.4 L383.9,533.5 L386.0,533.5 L388.1,533.5 L390.2,533.6 L392.4,533.6 L394.5,533.6 L396.6,533.7 L398.8,533.7 L400.9,533.8 L403.0,533.8 L405.1,533.9 L407.3,533.9 L409.4,534.0 L411.5,534.1 L413.7,534.1 L415.8,534.2 L417.9,534.3 L420.0,534.3 L422.2,534.4 L424.3,534.5" stroke="#DE5449"/>
<path d="M86.9,428.9 L89.0,435.6 L91.1,441.9 L93.3,447.3 L95.4,452.1 L97.5,456.2 L99.6,459.7 L101.8,462.7 L103.9,464.9 L106.0,466.6 L108.1,468.0 L110.2,469.0 L112.4,469.9 L114.5,470.6 L116.6,471.1 L118.7,471.6 L120.9,471.9 L123.0,472.1 L125.1,472.3 L127.2,472.4 L129.3,472.5 L131.5,472.5 L133.6,472.5 L135.7,472.5 L137.8,472.4 L140.0,472.3 L142.1,472.2 L144.2,472.0 L146.3,471.8 L148.4,471.5 L150.6,471.1 L152.7,470.8 L154.8,470.4 L156.9,469.9 L159.0,469.5 L161.2,469.0 L163.3,468.5 L165.4,467.9 L167.5,467.4 L169.7,466.8 L171.8,466.3 L173.9,465.7 L176.0,465.2 L178.1,464.6 L180.3,464.0 L182.4,463.5 L184.5,462.9 L186.6,462.4 L188.8,461.8 L190.9,461.3 L193.0,460.7 L195.1,460.2 L197.2,459.7 L199.4,459.2 L201.5,458.7 L203.6,458.3 L205.7,457.8 L207.9,457.4 L210.0,456.9 L212.1,456.5 L214.2,456.1 L216.3,455.8 L218.5,455.6 L220.6,455.5 L222.7,455.6 L224.8,455.8 L227.0,456.2 L229.1,456.7 L231.2,457.4 L233.3,458.2 L235.4,459.2 L237.6,460.1 L239.7,461.1 L241.8,462.0 L243.9,462.7 L246.1,463.2 L248.2,463.9 L250.3,465.4 L252.4,468.2 L254.5,472.0 L256.7,476.4 L258.8,481.0 L260.9,485.4 L263.0,489.2 L265.1,492.4 L267.3,494.9 L269.4,496.7 L271.5,498.0 L273.6,498.9 L275.8,499.5 L277.9,499.9 L280.0,500.5 L282.1,501.8 L284.2,503.9 L286.4,507.1 L288.5,511.0 L290.6,515.0 L292.7,518.8 L294.9,522.1 L297.0,524.7 L299.1,526.8 L301.2,528.2 L303.3,529.3 L305.5,530.2 L307.6,530.9 L309.7,531.4 L311.8,531.8 L314.0,532.1 L316.1,532.4 L318.2,532.7 L320.3,532.8 L322.4,533.0 L324.6,533.1 L326.7,533.2 L328.8,533.3 L330.9,533.3 L333.1,533.3 L335.2,533.3 L337.3,533.3 L339.4,533.2 L341.5,533.2 L343.7,533.1 L345.8,533.1 L347.9,533.0 L350.0,532.9 L352.2,532.8 L354.3,532.7 L356.4,532.7 L358.5,532.6 L360.6,532.5 L362.8,532.5 L364.9,532.5 L367.0,532.4 L369.1,532.4 L371.2,532.4 L373.4,532.4 L375.5,532.4 L377.6,532.4 L379.7,532.4 L381.9,532.4 L384.0,532.4 L386.1,532.4 L388.2,532.4 L390.3,532.4 L392.5,532.5 L394.6,532.5 L396.7,532.5 L398.8,532.5 L401.0,532.6 L403.1,532.6 L405.2,532.7 L407.3,532.7 L409.4,532.8 L411.6,532.8 L413.7,532.9 L415.8,533.0 L417.9,533.0 L420.1,533.1 L422.2,533.2 L424.3,533.3" stroke="#DE5449" stroke-dasharray="4.7 12.900" stroke-dashoffset="0.5"/>
<path d="M86.9,427.1 L89.0,433.8 L91.1,440.0 L93.3,445.4 L95.4,450.2 L97.5,454.3 L99.6,457.9 L101.8,460.8 L103.9,463.0 L106.0,464.7 L108.1,466.1 L110.2,467.1 L112.4,468.0 L114.5,468.8 L116.6,469.3 L118.7,469.8 L120.9,470.1 L123.0,470.3 L125.1,470.5 L127.2,470.6 L129.3,470.7 L131.5,470.7 L133.6,470.8 L135.7,470.7 L137.8,470.7 L140.0,470.6 L142.1,470.5 L144.2,470.4 L146.3,470.2 L148.4,469.9 L150.6,469.6 L152.7,469.3 L154.8,468.9 L156.9,468.5 L159.0,468.1 L161.2,467.6 L163.3,467.1 L165.4,466.6 L167.5,466.1 L169.7,465.6 L171.8,465.0 L173.9,464.5 L176.0,464.0 L178.1,463.4 L180.3,462.8 L182.4,462.3 L184.5,461.7 L186.6,461.1 L188.8,460.5 L190.9,459.9 L193.0,459.3 L195.1,458.7 L197.2,458.1 L199.4,457.5 L201.5,456.9 L203.6,456.3 L205.7,455.8 L207.9,455.2 L210.0,454.6 L212.1,454.1 L214.2,453.6 L216.3,453.1 L218.5,452.7 L220.6,452.4 L222.7,452.1 L224.8,452.0 L227.0,451.9 L229.1,452.0 L231.2,452.2 L233.3,452.5 L235.4,452.9 L237.6,453.5 L239.7,454.1 L241.8,454.9 L243.9,455.7 L246.1,456.5 L248.2,457.5 L250.3,458.8 L252.4,460.7 L254.5,463.6 L256.7,467.8 L258.8,473.0 L260.9,478.3 L263.0,482.9 L265.1,486.7 L267.3,489.5 L269.4,491.4 L271.5,492.6 L273.6,493.4 L275.8,494.0 L277.9,494.6 L280.0,495.4 L282.1,496.6 L284.2,498.5 L286.4,501.0 L288.5,504.1 L290.6,507.5 L292.7,511.0 L294.9,514.4 L297.0,517.2 L299.1,519.3 L301.2,520.9 L303.3,522.1 L305.5,523.0 L307.6,523.7 L309.7,524.3 L311.8,524.7 L314.0,525.2 L316.1,525.6 L318.2,526.1 L320.3,526.5 L322.4,526.9 L324.6,527.3 L326.7,527.6 L328.8,527.8 L330.9,527.9 L333.1,528.0 L335.2,528.0 L337.3,528.0 L339.4,528.0 L341.5,528.0 L343.7,527.9 L345.8,527.9 L347.9,527.8 L350.0,527.8 L352.2,527.7 L354.3,527.6 L356.4,527.4 L358.5,527.3 L360.6,527.1 L362.8,526.9 L364.9,526.7 L367.0,526.4 L369.1,526.2 L371.2,525.8 L373.4,525.4 L375.5,525.0 L377.6,524.4 L379.7,523.7 L381.9,522.7 L384.0,521.6 L386.1,520.2 L388.2,518.8 L390.3,517.5 L392.5,516.3 L394.6,515.2 L396.7,514.2 L398.8,513.2 L401.0,512.2 L403.1,510.9 L405.2,509.5 L407.3,507.6 L409.4,505.4 L411.6,502.6 L413.7,499.4 L415.8,495.6 L417.9,491.4 L420.1,486.9 L422.2,482.2 L424.3,479.2" stroke="#3AAFB3"/>
</g>
<g stroke="#000" stroke-width="2.0" fill="none"><path d="M129.6,614.7 v-5.2 M129.6,346.5 v5.2" stroke-width="1.6"/>
<path d="M171.6,614.7 v-9.0 M171.6,346.5 v9.0" stroke-width="2.1"/>
<path d="M213.7,614.7 v-5.2 M213.7,346.5 v5.2" stroke-width="1.6"/>
<path d="M255.8,614.7 v-9.0 M255.8,346.5 v9.0" stroke-width="2.1"/>
<path d="M297.8,614.7 v-5.2 M297.8,346.5 v5.2" stroke-width="1.6"/>
<path d="M339.9,614.7 v-9.0 M339.9,346.5 v9.0" stroke-width="2.1"/>
<path d="M381.9,614.7 v-5.2 M381.9,346.5 v5.2" stroke-width="1.6"/>
<path d="M87.5,599.3 h5.8 M424.0,599.3 h-5.8" stroke-width="1.6"/>
<path d="M87.5,583.8 h5.8 M424.0,583.8 h-5.8" stroke-width="1.6"/>
<path d="M87.5,568.4 h5.8 M424.0,568.4 h-5.8" stroke-width="1.6"/>
<path d="M87.5,552.9 h5.8 M424.0,552.9 h-5.8" stroke-width="1.6"/>
<path d="M87.5,537.5 h8.9 M424.0,537.5 h-8.9" stroke-width="2.1"/>
<path d="M87.5,522.1 h5.8 M424.0,522.1 h-5.8" stroke-width="1.6"/>
<path d="M87.5,506.6 h5.8 M424.0,506.6 h-5.8" stroke-width="1.6"/>
<path d="M87.5,491.2 h5.8 M424.0,491.2 h-5.8" stroke-width="1.6"/>
<path d="M87.5,475.7 h5.8 M424.0,475.7 h-5.8" stroke-width="1.6"/>
<path d="M87.5,460.3 h8.9 M424.0,460.3 h-8.9" stroke-width="2.1"/>
<path d="M87.5,444.9 h5.8 M424.0,444.9 h-5.8" stroke-width="1.6"/>
<path d="M87.5,429.4 h5.8 M424.0,429.4 h-5.8" stroke-width="1.6"/>
<path d="M87.5,414.0 h5.8 M424.0,414.0 h-5.8" stroke-width="1.6"/>
<path d="M87.5,398.5 h5.8 M424.0,398.5 h-5.8" stroke-width="1.6"/>
<path d="M87.5,383.1 h8.9 M424.0,383.1 h-8.9" stroke-width="2.1"/>
<path d="M87.5,367.7 h5.8 M424.0,367.7 h-5.8" stroke-width="1.6"/>
<path d="M87.5,352.2 h5.8 M424.0,352.2 h-5.8" stroke-width="1.6"/></g>
<rect x="87.5" y="346.5" width="336.5" height="268.2" fill="none" stroke="#000" stroke-width="2.2"/>
<clipPath id="cpd"><rect x="451.4" y="346.5" width="334.6" height="268.20000000000005"/></clipPath>
<g clip-path="url(#cpd)">
<path d="M450.8,360.4 L452.9,362.1 L455.0,363.9 L457.1,365.7 L459.2,367.7 L461.4,369.8 L463.5,372.1 L465.6,374.6 L467.7,377.3 L469.8,380.0 L471.9,382.8 L474.0,385.7 L476.1,388.5 L478.2,391.4 L480.3,394.4 L482.5,397.3 L484.6,400.4 L486.7,403.5 L488.8,406.8 L490.9,410.2 L493.0,413.7 L495.1,417.3 L497.2,421.2 L499.3,425.1 L501.4,429.3 L503.6,433.6 L505.7,438.0 L507.8,442.5 L509.9,447.0 L512.0,451.4 L514.1,455.7 L516.2,460.0 L518.3,464.4 L520.4,469.3 L522.5,474.9 L524.7,481.2 L526.8,487.5 L528.9,492.9 L531.0,497.5 L533.1,501.6 L535.2,505.4 L537.3,509.3 L539.4,513.0 L541.5,516.7 L543.6,520.3 L545.8,523.6 L547.9,526.6 L550.0,529.5 L552.1,532.1 L554.2,534.5 L556.3,536.7 L558.4,538.6 L560.5,540.4 L562.6,542.0 L564.7,543.4 L566.9,544.7 L569.0,545.8 L571.1,546.7 L573.2,547.6 L575.3,548.4 L577.4,549.1 L579.5,549.8 L581.6,550.5 L583.7,551.0 L585.8,551.6 L588.0,552.1 L590.1,552.6 L592.2,553.0 L594.3,553.4 L596.4,553.9 L598.5,554.2 L600.6,554.6 L602.7,555.0 L604.8,555.4 L606.9,555.8 L609.1,556.2 L611.2,556.5 L613.3,556.9 L615.4,557.3 L617.5,557.6 L619.6,557.9 L621.7,558.3 L623.8,558.6 L625.9,558.9 L628.0,559.3 L630.2,559.7 L632.3,560.1 L634.4,560.7 L636.5,561.3 L638.6,561.9 L640.7,562.7 L642.8,563.5 L644.9,564.4 L647.0,565.4 L649.1,566.4 L651.3,567.4 L653.4,568.5 L655.5,569.6 L657.6,570.7 L659.7,571.9 L661.8,573.0 L663.9,574.0 L666.0,575.1 L668.1,576.2 L670.2,577.2 L672.4,578.2 L674.5,579.1 L676.6,580.1 L678.7,580.9 L680.8,581.8 L682.9,582.5 L685.0,583.2 L687.1,583.9 L689.2,584.4 L691.3,584.9 L693.5,585.4 L695.6,585.8 L697.7,586.2 L699.8,586.5 L701.9,586.8 L704.0,587.0 L706.1,587.3 L708.2,587.5 L710.3,587.6 L712.4,587.8 L714.6,588.0 L716.7,588.1 L718.8,588.2 L720.9,588.4 L723.0,588.5 L725.1,588.6 L727.2,588.7 L729.3,588.8 L731.4,588.9 L733.5,589.0 L735.7,589.1 L737.8,589.2 L739.9,589.3 L742.0,589.4 L744.1,589.4 L746.2,589.5 L748.3,589.5 L750.4,589.6 L752.5,589.6 L754.6,589.6 L756.8,589.6 L758.9,589.7 L761.0,589.7 L763.1,589.7 L765.2,589.7 L767.3,589.8 L769.4,589.8 L771.5,589.8 L773.6,589.8 L775.7,589.8 L777.9,589.8 L780.0,589.9 L782.1,589.9 L784.2,589.9 L786.3,589.9 L786.3,593.6 L784.2,593.6 L782.1,593.6 L780.0,593.6 L777.9,593.6 L775.7,593.6 L773.6,593.6 L771.5,593.6 L769.4,593.6 L767.3,593.6 L765.2,593.6 L763.1,593.6 L761.0,593.6 L758.9,593.6 L756.8,593.6 L754.6,593.6 L752.5,593.6 L750.4,593.5 L748.3,593.5 L746.2,593.5 L744.1,593.5 L742.0,593.5 L739.9,593.5 L737.8,593.5 L735.7,593.5 L733.5,593.5 L731.4,593.5 L729.3,593.5 L727.2,593.5 L725.1,593.5 L723.0,593.5 L720.9,593.5 L718.8,593.5 L716.7,593.5 L714.6,593.5 L712.4,593.5 L710.3,593.4 L708.2,593.4 L706.1,593.4 L704.0,593.4 L701.9,593.4 L699.8,593.4 L697.7,593.4 L695.6,593.4 L693.5,593.4 L691.3,593.4 L689.2,593.3 L687.1,593.3 L685.0,593.3 L682.9,593.3 L680.8,593.3 L678.7,593.3 L676.6,593.3 L674.5,593.3 L672.4,593.3 L670.2,593.3 L668.1,593.2 L666.0,593.2 L663.9,593.2 L661.8,593.2 L659.7,593.2 L657.6,593.2 L655.5,593.2 L653.4,593.2 L651.3,593.2 L649.1,593.2 L647.0,593.2 L644.9,593.2 L642.8,593.2 L640.7,593.2 L638.6,593.2 L636.5,593.2 L634.4,593.2 L632.3,593.2 L630.2,593.2 L628.0,593.2 L625.9,593.2 L623.8,593.2 L621.7,593.2 L619.6,593.2 L617.5,593.2 L615.4,593.2 L613.3,593.2 L611.2,593.2 L609.1,593.3 L606.9,593.3 L604.8,593.3 L602.7,593.3 L600.6,593.3 L598.5,593.3 L596.4,593.4 L594.3,593.4 L592.2,593.4 L590.1,593.4 L588.0,593.4 L585.8,593.5 L583.7,593.5 L581.6,593.5 L579.5,593.5 L577.4,593.5 L575.3,593.6 L573.2,593.6 L571.1,593.6 L569.0,593.6 L566.9,593.6 L564.7,593.6 L562.6,593.7 L560.5,593.7 L558.4,593.7 L556.3,593.7 L554.2,593.7 L552.1,593.7 L550.0,593.7 L547.9,593.8 L545.8,593.8 L543.6,593.8 L541.5,593.8 L539.4,593.8 L537.3,593.9 L535.2,593.9 L533.1,593.9 L531.0,593.9 L528.9,594.0 L526.8,594.0 L524.7,594.0 L522.5,594.1 L520.4,594.1 L518.3,594.2 L516.2,594.2 L514.1,594.2 L512.0,594.3 L509.9,594.3 L507.8,594.4 L505.7,594.5 L503.6,594.5 L501.4,594.6 L499.3,594.6 L497.2,594.7 L495.1,594.7 L493.0,594.8 L490.9,594.9 L488.8,594.9 L486.7,595.0 L484.6,595.1 L482.5,595.1 L480.3,595.2 L478.2,595.3 L476.1,595.3 L474.0,595.4 L471.9,595.5 L469.8,595.5 L467.7,595.6 L465.6,595.7 L463.5,595.7 L461.4,595.8 L459.2,595.9 L457.1,595.9 L455.0,596.0 L452.9,596.1 L450.8,596.1Z" fill="#F3BCB7"/>
<path d="M450.8,598.1 L452.9,598.1 L455.0,598.0 L457.1,597.9 L459.2,597.9 L461.4,597.8 L463.5,597.7 L465.6,597.7 L467.7,597.6 L469.8,597.5 L471.9,597.5 L474.0,597.4 L476.1,597.3 L478.2,597.3 L480.3,597.2 L482.5,597.1 L484.6,597.1 L486.7,597.0 L488.8,596.9 L490.9,596.9 L493.0,596.8 L495.1,596.7 L497.2,596.7 L499.3,596.6 L501.4,596.6 L503.6,596.5 L505.7,596.5 L507.8,596.4 L509.9,596.3 L512.0,596.3 L514.1,596.2 L516.2,596.2 L518.3,596.2 L520.4,596.1 L522.5,596.1 L524.7,596.0 L526.8,596.0 L528.9,596.0 L531.0,595.9 L533.1,595.9 L535.2,595.9 L537.3,595.9 L539.4,595.8 L541.5,595.8 L543.6,595.8 L545.8,595.8 L547.9,595.8 L550.0,595.7 L552.1,595.7 L554.2,595.7 L556.3,595.7 L558.4,595.7 L560.5,595.7 L562.6,595.7 L564.7,595.6 L566.9,595.6 L569.0,595.6 L571.1,595.6 L573.2,595.6 L575.3,595.6 L577.4,595.5 L579.5,595.5 L581.6,595.5 L583.7,595.5 L585.8,595.5 L588.0,595.4 L590.1,595.4 L592.2,595.4 L594.3,595.4 L596.4,595.4 L598.5,595.3 L600.6,595.3 L602.7,595.3 L604.8,595.3 L606.9,595.3 L609.1,595.3 L611.2,595.2 L613.3,595.2 L615.4,595.2 L617.5,595.2 L619.6,595.2 L621.7,595.2 L623.8,595.2 L625.9,595.2 L628.0,595.2 L630.2,595.2 L632.3,595.2 L634.4,595.2 L636.5,595.2 L638.6,595.2 L640.7,595.2 L642.8,595.2 L644.9,595.2 L647.0,595.2 L649.1,595.2 L651.3,595.2 L653.4,595.2 L655.5,595.2 L657.6,595.2 L659.7,595.2 L661.8,595.2 L663.9,595.2 L666.0,595.2 L668.1,595.2 L670.2,595.3 L672.4,595.3 L674.5,595.3 L676.6,595.3 L678.7,595.3 L680.8,595.3 L682.9,595.3 L685.0,595.3 L687.1,595.3 L689.2,595.3 L691.3,595.4 L693.5,595.4 L695.6,595.4 L697.7,595.4 L699.8,595.4 L701.9,595.4 L704.0,595.4 L706.1,595.4 L708.2,595.4 L710.3,595.4 L712.4,595.5 L714.6,595.5 L716.7,595.5 L718.8,595.5 L720.9,595.5 L723.0,595.6 L725.1,595.7 L727.2,595.8 L729.3,595.8 L731.4,595.9 L733.5,596.0 L735.7,596.0 L737.8,596.1 L739.9,596.1 L742.0,596.1 L744.1,596.2 L746.2,596.2 L748.3,596.2 L750.4,596.2 L752.5,596.2 L754.6,596.2 L756.8,596.2 L758.9,596.3 L761.0,596.3 L763.1,596.2 L765.2,596.2 L767.3,596.2 L769.4,596.2 L771.5,596.2 L773.6,596.2 L775.7,596.2 L777.9,596.2 L780.0,596.2 L782.1,596.1 L784.2,596.1 L786.3,596.1 L789.0,617.7 L448.4,617.7Z" fill="#D1B8A6"/>
<path d="M450.8,599.8 L452.9,599.8 L455.0,599.7 L457.1,599.6 L459.2,599.6 L461.4,599.5 L463.5,599.4 L465.6,599.4 L467.7,599.3 L469.8,599.2 L471.9,599.2 L474.0,599.1 L476.1,599.0 L478.2,599.0 L480.3,598.9 L482.5,598.8 L484.6,598.8 L486.7,598.7 L488.8,598.6 L490.9,598.6 L493.0,598.5 L495.1,598.4 L497.2,598.4 L499.3,598.3 L501.4,598.3 L503.6,598.2 L505.7,598.2 L507.8,598.1 L509.9,598.0 L512.0,598.0 L514.1,597.9 L516.2,597.9 L518.3,597.9 L520.4,597.8 L522.5,597.8 L524.7,597.7 L526.8,597.7 L528.9,597.7 L531.0,597.6 L533.1,597.6 L535.2,597.6 L537.3,597.6 L539.4,597.5 L541.5,597.5 L543.6,597.5 L545.8,597.5 L547.9,597.5 L550.0,597.4 L552.1,597.4 L554.2,597.4 L556.3,597.4 L558.4,597.4 L560.5,597.4 L562.6,597.4 L564.7,597.3 L566.9,597.3 L569.0,597.3 L571.1,597.3 L573.2,597.3 L575.3,597.3 L577.4,597.2 L579.5,597.2 L581.6,597.2 L583.7,597.2 L585.8,597.2 L588.0,597.1 L590.1,597.1 L592.2,597.1 L594.3,597.1 L596.4,597.1 L598.5,597.0 L600.6,597.0 L602.7,597.0 L604.8,597.0 L606.9,597.0 L609.1,597.0 L611.2,596.9 L613.3,596.9 L615.4,596.9 L617.5,596.9 L619.6,596.9 L621.7,596.9 L623.8,596.9 L625.9,596.9 L628.0,596.9 L630.2,596.9 L632.3,596.9 L634.4,596.9 L636.5,596.9 L638.6,596.9 L640.7,596.9 L642.8,596.9 L644.9,596.9 L647.0,596.9 L649.1,596.9 L651.3,596.9 L653.4,596.9 L655.5,596.9 L657.6,596.9 L659.7,596.9 L661.8,596.9 L663.9,596.9 L666.0,596.9 L668.1,596.9 L670.2,597.0 L672.4,597.0 L674.5,597.0 L676.6,597.0 L678.7,597.0 L680.8,597.0 L682.9,597.0 L685.0,597.0 L687.1,597.0 L689.2,597.0 L691.3,597.1 L693.5,597.1 L695.6,597.1 L697.7,597.1 L699.8,597.1 L701.9,597.1 L704.0,597.1 L706.1,597.1 L708.2,597.1 L710.3,597.1 L712.4,597.2 L714.6,597.2 L716.7,597.2 L718.8,597.2 L720.9,597.2 L723.0,597.3 L725.1,597.4 L727.2,597.5 L729.3,597.5 L731.4,597.6 L733.5,597.7 L735.7,597.7 L737.8,597.8 L739.9,597.8 L742.0,597.8 L744.1,597.9 L746.2,597.9 L748.3,597.9 L750.4,597.9 L752.5,597.9 L754.6,597.9 L756.8,597.9 L758.9,598.0 L761.0,598.0 L763.1,597.9 L765.2,597.9 L767.3,597.9 L769.4,597.9 L771.5,597.9 L773.6,597.9 L775.7,597.9 L777.9,597.9 L780.0,597.9 L782.1,597.8 L784.2,597.8 L786.3,597.8" fill="none" stroke="#fff" stroke-width="1.2"/>
<path d="M453.3,600.1 V613.7 M784.1,597.6 V613.7" fill="none" stroke="#fff" stroke-width="1.3"/>
<g stroke="#fff" fill="none"><path d="M493.2,614.7 v-6.1000000000000005" stroke-width="3.8"/>
<path d="M535.0,614.7 v-9.9" stroke-width="3.8"/>
<path d="M576.9,614.7 v-6.1000000000000005" stroke-width="3.8"/>
<path d="M618.7,614.7 v-9.9" stroke-width="3.8"/>
<path d="M660.5,614.7 v-6.1000000000000005" stroke-width="3.8"/>
<path d="M702.4,614.7 v-9.9" stroke-width="3.8"/>
<path d="M744.2,614.7 v-6.1000000000000005" stroke-width="3.8"/>
<path d="M786.0,599.8 h-4.9" stroke-width="4.4"/></g>
</g>
<path d="M619.2,597.2 V614.7" stroke="#fff" stroke-width="2.0" fill="none"/>
<path d="M619.2,346.5 V614.7" stroke="#000" stroke-width="1.35" stroke-dasharray="2.55 2.55" fill="none"/>
<g fill="none" stroke-width="6.8" stroke-linecap="round" stroke-linejoin="round">
<path d="M449.7,596.2 L451.8,596.1 L453.9,596.0 L456.1,596.0 L458.2,595.9 L460.3,595.8 L462.4,595.8 L464.5,595.7 L466.6,595.6 L468.8,595.6 L470.9,595.5 L473.0,595.4 L475.1,595.4 L477.2,595.3 L479.3,595.2 L481.5,595.2 L483.6,595.1 L485.7,595.0 L487.8,595.0 L489.9,594.9 L492.0,594.8 L494.2,594.8 L496.3,594.7 L498.4,594.7 L500.5,594.6 L502.6,594.5 L504.7,594.5 L506.9,594.4 L509.0,594.4 L511.1,594.3 L513.2,594.3 L515.3,594.2 L517.4,594.2 L519.6,594.1 L521.7,594.1 L523.8,594.0 L525.9,594.0 L528.0,594.0 L530.1,593.9 L532.3,593.9 L534.4,593.9 L536.5,593.9 L538.6,593.8 L540.7,593.8 L542.8,593.8 L545.0,593.8 L547.1,593.8 L549.2,593.7 L551.3,593.7 L553.4,593.7 L555.5,593.7 L557.7,593.7 L559.8,593.7 L561.9,593.7 L564.0,593.6 L566.1,593.6 L568.3,593.6 L570.4,593.6 L572.5,593.6 L574.6,593.6 L576.7,593.5 L578.8,593.5 L581.0,593.5 L583.1,593.5 L585.2,593.5 L587.3,593.4 L589.4,593.4 L591.5,593.4 L593.7,593.4 L595.8,593.4 L597.9,593.3 L600.0,593.3 L602.1,593.3 L604.2,593.3 L606.4,593.3 L608.5,593.3 L610.6,593.2 L612.7,593.2 L614.8,593.2 L616.9,593.2 L619.1,593.2 L621.2,593.2 L623.3,593.2 L625.4,593.2 L627.5,593.2 L629.6,593.2 L631.8,593.2 L633.9,593.2 L636.0,593.2 L638.1,593.2 L640.2,593.2 L642.3,593.2 L644.5,593.2 L646.6,593.2 L648.7,593.2 L650.8,593.2 L652.9,593.2 L655.0,593.2 L657.2,593.2 L659.3,593.2 L661.4,593.2 L663.5,593.2 L665.6,593.2 L667.7,593.2 L669.9,593.2 L672.0,593.3 L674.1,593.3 L676.2,593.3 L678.3,593.3 L680.5,593.3 L682.6,593.3 L684.7,593.3 L686.8,593.3 L688.9,593.3 L691.0,593.4 L693.2,593.4 L695.3,593.4 L697.4,593.4 L699.5,593.4 L701.6,593.4 L703.7,593.4 L705.9,593.4 L708.0,593.4 L710.1,593.4 L712.2,593.5 L714.3,593.5 L716.4,593.5 L718.6,593.5 L720.7,593.5 L722.8,593.5 L724.9,593.5 L727.0,593.5 L729.1,593.5 L731.3,593.5 L733.4,593.5 L735.5,593.5 L737.6,593.5 L739.7,593.5 L741.8,593.5 L744.0,593.5 L746.1,593.5 L748.2,593.5 L750.3,593.5 L752.4,593.6 L754.5,593.6 L756.7,593.6 L758.8,593.6 L760.9,593.6 L763.0,593.6 L765.1,593.6 L767.2,593.6 L769.4,593.6 L771.5,593.6 L773.6,593.6 L775.7,593.6 L777.8,593.6 L779.9,593.6 L782.1,593.6 L784.2,593.6 L786.3,593.6" stroke="#854E23"/>
<path d="M449.7,585.9 L451.8,585.8 L453.9,585.7 L456.1,585.6 L458.2,585.5 L460.3,585.3 L462.4,585.2 L464.5,585.1 L466.6,584.9 L468.8,584.8 L470.9,584.6 L473.0,584.5 L475.1,584.3 L477.2,584.1 L479.3,583.9 L481.5,583.7 L483.6,583.5 L485.7,583.3 L487.8,583.0 L489.9,582.8 L492.0,582.6 L494.2,582.3 L496.3,582.1 L498.4,581.8 L500.5,581.5 L502.6,581.3 L504.7,581.0 L506.9,580.7 L509.0,580.4 L511.1,580.1 L513.2,579.9 L515.3,579.6 L517.4,579.3 L519.6,579.0 L521.7,578.7 L523.8,578.4 L525.9,578.2 L528.0,577.9 L530.1,577.6 L532.3,577.3 L534.4,577.1 L536.5,576.8 L538.6,576.6 L540.7,576.3 L542.8,576.1 L545.0,575.9 L547.1,575.7 L549.2,575.5 L551.3,575.2 L553.4,575.0 L555.5,574.8 L557.7,574.6 L559.8,574.5 L561.9,574.3 L564.0,574.1 L566.1,573.9 L568.3,573.7 L570.4,573.5 L572.5,573.4 L574.6,573.2 L576.7,573.1 L578.8,572.9 L581.0,572.8 L583.1,572.7 L585.2,572.6 L587.3,572.5 L589.4,572.4 L591.5,572.3 L593.7,572.2 L595.8,572.2 L597.9,572.1 L600.0,572.1 L602.1,572.0 L604.2,572.0 L606.4,571.9 L608.5,571.9 L610.6,571.9 L612.7,571.9 L614.8,571.9 L616.9,572.0 L619.1,572.1 L621.2,572.2 L623.3,572.3 L625.4,572.5 L627.5,572.7 L629.6,572.9 L631.8,573.1 L633.9,573.3 L636.0,573.6 L638.1,573.9 L640.2,574.2 L642.3,574.6 L644.5,575.1 L646.6,575.6 L648.7,576.2 L650.8,576.9 L652.9,577.7 L655.0,578.6 L657.2,579.5 L659.3,580.5 L661.4,581.4 L663.5,582.4 L665.6,583.3 L667.7,584.2 L669.9,585.1 L672.0,585.9 L674.1,586.7 L676.2,587.5 L678.3,588.3 L680.5,589.0 L682.6,589.6 L684.7,590.2 L686.8,590.7 L688.9,591.2 L691.0,591.5 L693.2,591.8 L695.3,592.0 L697.4,592.2 L699.5,592.4 L701.6,592.5 L703.7,592.7 L705.9,592.8 L708.0,593.0 L710.1,593.1 L712.2,593.3 L714.3,593.4 L716.4,593.5 L718.6,593.6 L720.7,593.7 L722.8,593.8 L724.9,593.9 L727.0,594.0 L729.1,594.0 L731.3,594.1 L733.4,594.2 L735.5,594.2 L737.6,594.3 L739.7,594.3 L741.8,594.3 L744.0,594.4 L746.1,594.4 L748.2,594.4 L750.3,594.4 L752.4,594.4 L754.5,594.4 L756.7,594.4 L758.8,594.5 L760.9,594.5 L763.0,594.4 L765.1,594.4 L767.2,594.4 L769.4,594.4 L771.5,594.4 L773.6,594.4 L775.7,594.4 L777.8,594.4 L779.9,594.4 L782.1,594.3 L784.2,594.3 L786.3,594.3" stroke="#DE5449"/>
<path d="M450.8,364.8 L452.9,366.0 L455.0,367.3 L457.1,368.7 L459.2,370.4 L461.4,372.3 L463.5,374.6 L465.6,377.1 L467.7,379.8 L469.8,382.6 L471.9,385.5 L474.0,388.5 L476.1,391.4 L478.2,394.3 L480.3,397.2 L482.5,400.2 L484.6,403.3 L486.7,406.4 L488.8,409.7 L490.9,413.2 L493.0,416.7 L495.1,420.5 L497.2,424.3 L499.3,428.4 L501.4,432.6 L503.6,437.0 L505.7,441.4 L507.8,445.9 L509.9,450.3 L512.0,454.7 L514.1,459.0 L516.2,463.3 L518.3,467.9 L520.4,473.0 L522.5,479.0 L524.7,485.4 L526.8,491.3 L528.9,496.4 L531.0,500.8 L533.1,504.8 L535.2,508.6 L537.3,512.4 L539.4,516.2 L541.5,519.8 L543.6,523.2 L545.8,526.5 L547.9,529.4 L550.0,532.2 L552.1,534.7 L554.2,537.0 L556.3,539.1 L558.4,541.0 L560.5,542.8 L562.6,544.3 L564.7,545.6 L566.9,546.8 L569.0,547.8 L571.1,548.8 L573.2,549.6 L575.3,550.4 L577.4,551.1 L579.5,551.7 L581.6,552.4 L583.7,552.9 L585.8,553.5 L588.0,554.0 L590.1,554.5 L592.2,555.0 L594.3,555.4 L596.4,555.8 L598.5,556.2 L600.6,556.5 L602.7,556.8 L604.8,557.1 L606.9,557.3 L609.1,557.6 L611.2,557.8 L613.3,558.0 L615.4,558.2 L617.5,558.5 L619.6,558.7 L621.7,559.0 L623.8,559.3 L625.9,559.6 L628.0,560.0 L630.2,560.4 L632.3,560.9 L634.4,561.5 L636.5,562.1 L638.6,562.8 L640.7,563.5 L642.8,564.3 L644.9,565.2 L647.0,566.2 L649.1,567.2 L651.3,568.2 L653.4,569.3 L655.5,570.4 L657.6,571.5 L659.7,572.7 L661.8,573.8 L663.9,574.8 L666.0,575.9 L668.1,577.0 L670.2,578.0 L672.4,579.0 L674.5,579.9 L676.6,580.9 L678.7,581.7 L680.8,582.6 L682.9,583.3 L685.0,584.0 L687.1,584.7 L689.2,585.2 L691.3,585.7 L693.5,586.2 L695.6,586.6 L697.7,587.0 L699.8,587.3 L701.9,587.6 L704.0,587.8 L706.1,588.1 L708.2,588.3 L710.3,588.4 L712.4,588.6 L714.6,588.8 L716.7,588.9 L718.8,589.0 L720.9,589.2 L723.0,589.3 L725.1,589.4 L727.2,589.5 L729.3,589.6 L731.4,589.7 L733.5,589.8 L735.7,589.9 L737.8,590.0 L739.9,590.1 L742.0,590.2 L744.1,590.2 L746.2,590.3 L748.3,590.3 L750.4,590.4 L752.5,590.4 L754.6,590.4 L756.8,590.4 L758.9,590.5 L761.0,590.5 L763.1,590.5 L765.2,590.5 L767.3,590.6 L769.4,590.6 L771.5,590.6 L773.6,590.6 L775.7,590.6 L777.9,590.6 L780.0,590.7 L782.1,590.7 L784.2,590.7 L786.3,590.7" stroke="#DE5449" stroke-dasharray="4.7 14.400" stroke-dashoffset="0.5"/>
<path d="M450.8,360.4 L452.9,362.1 L455.0,363.9 L457.1,365.7 L459.2,367.7 L461.4,369.8 L463.5,372.1 L465.6,374.6 L467.7,377.3 L469.8,380.0 L471.9,382.8 L474.0,385.7 L476.1,388.5 L478.2,391.4 L480.3,394.4 L482.5,397.3 L484.6,400.4 L486.7,403.5 L488.8,406.8 L490.9,410.2 L493.0,413.7 L495.1,417.3 L497.2,421.2 L499.3,425.1 L501.4,429.3 L503.6,433.6 L505.7,438.0 L507.8,442.5 L509.9,447.0 L512.0,451.4 L514.1,455.7 L516.2,460.0 L518.3,464.4 L520.4,469.3 L522.5,474.9 L524.7,481.2 L526.8,487.5 L528.9,492.9 L531.0,497.5 L533.1,501.6 L535.2,505.4 L537.3,509.3 L539.4,513.0 L541.5,516.7 L543.6,520.3 L545.8,523.6 L547.9,526.6 L550.0,529.5 L552.1,532.1 L554.2,534.5 L556.3,536.7 L558.4,538.6 L560.5,540.4 L562.6,542.0 L564.7,543.4 L566.9,544.7 L569.0,545.8 L571.1,546.7 L573.2,547.6 L575.3,548.4 L577.4,549.1 L579.5,549.8 L581.6,550.5 L583.7,551.0 L585.8,551.6 L588.0,552.1 L590.1,552.6 L592.2,553.0 L594.3,553.4 L596.4,553.9 L598.5,554.2 L600.6,554.6 L602.7,555.0 L604.8,555.4 L606.9,555.8 L609.1,556.2 L611.2,556.5 L613.3,556.9 L615.4,557.3 L617.5,557.6 L619.6,557.9 L621.7,558.3 L623.8,558.6 L625.9,558.9 L628.0,559.3 L630.2,559.7 L632.3,560.1 L634.4,560.7 L636.5,561.3 L638.6,561.9 L640.7,562.7 L642.8,563.5 L644.9,564.4 L647.0,565.4 L649.1,566.4 L651.3,567.4 L653.4,568.5 L655.5,569.6 L657.6,570.7 L659.7,571.9 L661.8,573.0 L663.9,574.0 L666.0,575.1 L668.1,576.2 L670.2,577.2 L672.4,578.2 L674.5,579.1 L676.6,580.1 L678.7,580.9 L680.8,581.8 L682.9,582.5 L685.0,583.2 L687.1,583.9 L689.2,584.4 L691.3,584.9 L693.5,585.4 L695.6,585.8 L697.7,586.2 L699.8,586.5 L701.9,586.8 L704.0,587.0 L706.1,587.3 L708.2,587.5 L710.3,587.6 L712.4,587.8 L714.6,588.0 L716.7,588.1 L718.8,588.2 L720.9,588.4 L723.0,588.5 L725.1,588.6 L727.2,588.7 L729.3,588.8 L731.4,588.9 L733.5,589.0 L735.7,589.1 L737.8,589.2 L739.9,589.3 L742.0,589.4 L744.1,589.4 L746.2,589.5 L748.3,589.5 L750.4,589.6 L752.5,589.6 L754.6,589.6 L756.8,589.6 L758.9,589.7 L761.0,589.7 L763.1,589.7 L765.2,589.7 L767.3,589.8 L769.4,589.8 L771.5,589.8 L773.6,589.8 L775.7,589.8 L777.9,589.8 L780.0,589.9 L782.1,589.9 L784.2,589.9 L786.3,589.9" stroke="#3AAFB3"/>
</g>
<g stroke="#000" stroke-width="2.0" fill="none"><path d="M493.2,614.7 v-5.2 M493.2,346.5 v5.2" stroke-width="1.6"/>
<path d="M535.0,614.7 v-9.0 M535.0,346.5 v9.0" stroke-width="2.1"/>
<path d="M576.9,614.7 v-5.2 M576.9,346.5 v5.2" stroke-width="1.6"/>
<path d="M618.7,614.7 v-9.0 M618.7,346.5 v9.0" stroke-width="2.1"/>
<path d="M660.5,614.7 v-5.2 M660.5,346.5 v5.2" stroke-width="1.6"/>
<path d="M702.4,614.7 v-9.0 M702.4,346.5 v9.0" stroke-width="2.1"/>
<path d="M744.2,614.7 v-5.2 M744.2,346.5 v5.2" stroke-width="1.6"/>
<path d="M451.4,599.8 h3.8 M786.0,599.8 h-3.8" stroke-width="1.6"/>
<path d="M451.4,584.9 h3.8 M786.0,584.9 h-3.8" stroke-width="1.6"/>
<path d="M451.4,570.0 h3.8 M786.0,570.0 h-3.8" stroke-width="1.6"/>
<path d="M451.4,555.1 h3.8 M786.0,555.1 h-3.8" stroke-width="1.6"/>
<path d="M451.4,540.2 h3.8 M786.0,540.2 h-3.8" stroke-width="1.6"/>
<path d="M451.4,525.3 h8.2 M786.0,525.3 h-8.2" stroke-width="2.1"/>
<path d="M451.4,510.4 h3.8 M786.0,510.4 h-3.8" stroke-width="1.6"/>
<path d="M451.4,495.5 h3.8 M786.0,495.5 h-3.8" stroke-width="1.6"/>
<path d="M451.4,480.6 h3.8 M786.0,480.6 h-3.8" stroke-width="1.6"/>
<path d="M451.4,465.7 h3.8 M786.0,465.7 h-3.8" stroke-width="1.6"/>
<path d="M451.4,450.8 h3.8 M786.0,450.8 h-3.8" stroke-width="1.6"/>
<path d="M451.4,435.9 h8.2 M786.0,435.9 h-8.2" stroke-width="2.1"/>
<path d="M451.4,421.0 h3.8 M786.0,421.0 h-3.8" stroke-width="1.6"/>
<path d="M451.4,406.1 h3.8 M786.0,406.1 h-3.8" stroke-width="1.6"/>
<path d="M451.4,391.2 h3.8 M786.0,391.2 h-3.8" stroke-width="1.6"/>
<path d="M451.4,376.3 h3.8 M786.0,376.3 h-3.8" stroke-width="1.6"/>
<path d="M451.4,361.4 h3.8 M786.0,361.4 h-3.8" stroke-width="1.6"/></g>
<rect x="451.4" y="346.5" width="334.6" height="268.2" fill="none" stroke="#000" stroke-width="2.2"/>
<g font-family="Liberation Sans, sans-serif" font-size="18.5px" letter-spacing="0.8" fill="#000">
<text x="76.8" y="34.3" text-anchor="end">180</text>
<text x="76.8" y="122.3" text-anchor="end">120</text>
<text x="76.8" y="212.1" text-anchor="end">60</text>
<text x="80.2" y="301.5" text-anchor="end">0</text>
<text x="76.3" y="389.6" text-anchor="end">30</text>
<text x="76.3" y="467.1" text-anchor="end">20</text>
<text x="76.3" y="544.1" text-anchor="end">10</text>
<text x="76.3" y="622.4" text-anchor="end">0</text>
<text x="797.3" y="34.2" text-anchor="start">180</text>
<text x="797.3" y="122.3" text-anchor="start">120</text>
<text x="798.2" y="212.1" text-anchor="start">60</text>
<text x="798.2" y="302.5" text-anchor="start">0</text>
<text x="797.3" y="353.40000000000003" text-anchor="start">180</text>
<text x="797.3" y="442.6" text-anchor="start">120</text>
<text x="798.2" y="531.9" text-anchor="start">60</text>
<text x="798.2" y="622.1" text-anchor="start">0</text>
<text x="87.8" y="643.2" text-anchor="middle">-2</text>
<text x="171.20000000000002" y="643.2" text-anchor="middle">-1</text>
<text x="252.5" y="643.2" text-anchor="middle">0</text>
<text x="335.8" y="643.2" text-anchor="middle">1</text>
<text x="418.3" y="643.2" text-anchor="middle">2</text>
<text x="449.2" y="643.2" text-anchor="middle">-2</text>
<text x="532.4" y="643.2" text-anchor="middle">-1</text>
<text x="619.5999999999999" y="643.2" text-anchor="middle">0</text>
<text x="697.0" y="643.2" text-anchor="middle">1</text>
<text x="785.0999999999999" y="643.2" text-anchor="middle">2</text>
</g>
<g font-family="Liberation Sans, sans-serif" font-weight="bold" font-size="29.5px" fill="#000">
<text transform="translate(86.3,21.1) scale(1.07,1)">a</text>
<text transform="translate(449.8,21.4) scale(1.07,1)">b</text>
<text transform="translate(83.8,340.4) scale(1.07,1)">c</text>
<text transform="translate(449.8,340.6) scale(1.07,1)">d</text>
</g>
<g font-family="Liberation Serif, serif" fill="#000">
<text x="123.5" y="68.2" font-size="32.6px">MoS<tspan font-size="24.5px" dy="8.8" dx="-0.5">2</tspan></text>
<text x="496.3" y="68.6" font-size="30.8px">MoSe<tspan font-size="23.5px" dy="8">2</tspan></text>
<text x="133.6" y="390" font-size="29.5px">WS<tspan font-size="23.5px" dy="9">2</tspan></text>
<text x="504.5" y="392.5" font-size="29.6px">WSe<tspan font-size="23.5px" dy="4.3">2</tspan></text>
<text transform="translate(370.4,686.5) scale(0.99,1)" font-size="32px">Strain [%]</text>
<text transform="translate(24.0,444.4) rotate(-90) scale(0.982,1)" font-size="32px">Linewidth [meV]</text>
<g font-size="20.5px">
<text x="285" y="64" textLength="31.4" lengthAdjust="spacingAndGlyphs">KK</text>
<text x="270.7" y="87.4" textLength="44.8" lengthAdjust="spacingAndGlyphs">+KΛ</text>
<text x="272.2" y="108.7" textLength="51.8" lengthAdjust="spacingAndGlyphs">+KΛ'</text>
<text x="272.6" y="132.7" textLength="26.6" lengthAdjust="spacingAndGlyphs">+Γ</text>
<text x="303.2" y="134.5" textLength="15.8" lengthAdjust="spacingAndGlyphs">K</text>
</g>
</g>
<text x="316.6" y="52.2" font-family="Liberation Sans, sans-serif" font-size="15px" letter-spacing="0.6">(')</text>
<g fill="none" stroke-width="6.3" stroke-linecap="round">
<path d="M339,57 H391.5" stroke="#854E23"/>
<path d="M339,79.3 H391.5" stroke="#DE5449"/>
<path d="M339,105.1 h22.6 M373.8,105.1 H391.5" stroke="#DE5449"/>
<path d="M339,130.2 H391.5" stroke="#3AAFB3"/>
</g>
</svg>
</body></html>
